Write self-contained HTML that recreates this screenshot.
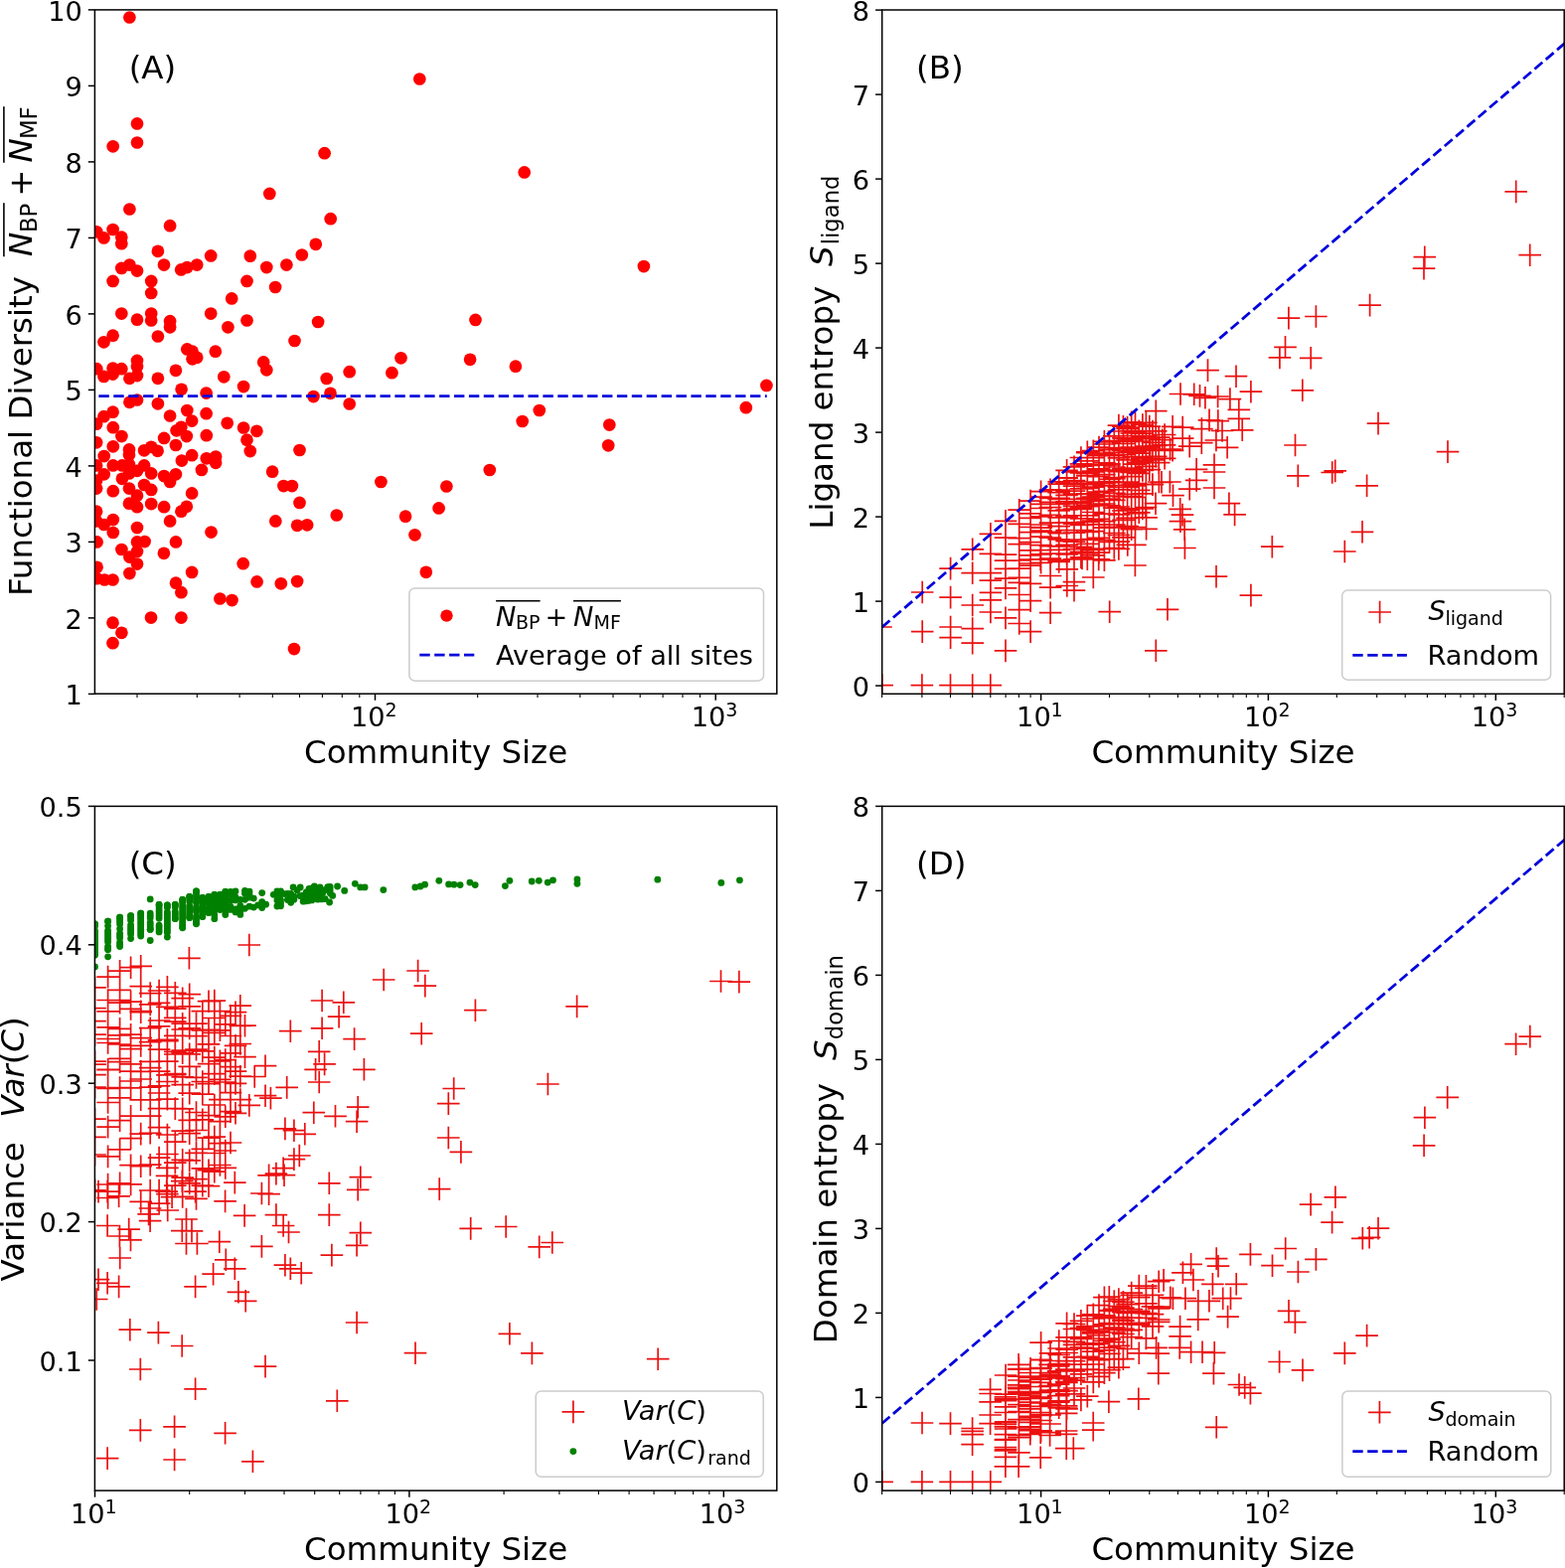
<!DOCTYPE html><html><head><meta charset="utf-8"><style>html,body{margin:0;padding:0;background:#fff;overflow:hidden}svg{display:block}</style></head><body>
<svg width="1575" height="1578" viewBox="0 0 1575 1578" font-family="'DejaVu Sans', 'Liberation Sans', sans-serif">
<rect width="1575" height="1578" fill="#fff"/>
<defs>
<clipPath id="clipA"><rect x="95.4" y="9.9" width="686.4" height="688.3"/></clipPath>
<clipPath id="clipB"><rect x="887.7" y="10.0" width="686.5" height="688.3"/></clipPath>
<clipPath id="clipC"><rect x="95.4" y="811.4" width="686.4" height="688.7"/></clipPath>
<clipPath id="clipD"><rect x="887.7" y="811.4" width="686.5" height="688.7"/></clipPath>
</defs>
<g clip-path="url(#clipA)" fill="#ff0000">
<circle cx="130.4" cy="17.5" r="6.35"/>
<circle cx="138.0" cy="124.4" r="6.35"/>
<circle cx="138.0" cy="143.5" r="6.35"/>
<circle cx="113.7" cy="147.3" r="6.35"/>
<circle cx="271.3" cy="194.9" r="6.35"/>
<circle cx="130.4" cy="210.5" r="6.35"/>
<circle cx="171.1" cy="227.2" r="6.35"/>
<circle cx="97.3" cy="233.3" r="6.35"/>
<circle cx="104.5" cy="239.4" r="6.35"/>
<circle cx="113.6" cy="231.0" r="6.35"/>
<circle cx="122.3" cy="238.7" r="6.35"/>
<circle cx="122.3" cy="245.2" r="6.35"/>
<circle cx="158.9" cy="252.8" r="6.35"/>
<circle cx="165.0" cy="266.6" r="6.35"/>
<circle cx="122.3" cy="269.9" r="6.35"/>
<circle cx="130.4" cy="266.6" r="6.35"/>
<circle cx="138.0" cy="272.6" r="6.35"/>
<circle cx="113.6" cy="282.9" r="6.35"/>
<circle cx="152.2" cy="282.9" r="6.35"/>
<circle cx="152.2" cy="295.0" r="6.35"/>
<circle cx="182.2" cy="271.4" r="6.35"/>
<circle cx="188.3" cy="269.1" r="6.35"/>
<circle cx="198.2" cy="266.6" r="6.35"/>
<circle cx="212.2" cy="257.4" r="6.35"/>
<circle cx="251.8" cy="257.7" r="6.35"/>
<circle cx="268.3" cy="269.1" r="6.35"/>
<circle cx="288.4" cy="266.6" r="6.35"/>
<circle cx="303.8" cy="256.5" r="6.35"/>
<circle cx="317.8" cy="245.8" r="6.35"/>
<circle cx="248.5" cy="282.9" r="6.35"/>
<circle cx="277.1" cy="289.0" r="6.35"/>
<circle cx="233.2" cy="300.4" r="6.35"/>
<circle cx="122.3" cy="315.6" r="6.35"/>
<circle cx="138.0" cy="321.7" r="6.35"/>
<circle cx="152.2" cy="315.6" r="6.35"/>
<circle cx="152.2" cy="322.5" r="6.35"/>
<circle cx="171.1" cy="323.2" r="6.35"/>
<circle cx="171.1" cy="329.3" r="6.35"/>
<circle cx="212.2" cy="315.6" r="6.35"/>
<circle cx="229.4" cy="329.3" r="6.35"/>
<circle cx="248.5" cy="322.5" r="6.35"/>
<circle cx="320.1" cy="324.0" r="6.35"/>
<circle cx="113.6" cy="337.7" r="6.35"/>
<circle cx="104.5" cy="344.3" r="6.35"/>
<circle cx="158.9" cy="338.5" r="6.35"/>
<circle cx="188.3" cy="351.4" r="6.35"/>
<circle cx="193.6" cy="353.7" r="6.35"/>
<circle cx="198.2" cy="359.8" r="6.35"/>
<circle cx="193.6" cy="361.3" r="6.35"/>
<circle cx="216.8" cy="353.7" r="6.35"/>
<circle cx="296.5" cy="343.0" r="6.35"/>
<circle cx="265.2" cy="364.4" r="6.35"/>
<circle cx="268.3" cy="372.3" r="6.35"/>
<circle cx="97.3" cy="371.2" r="6.35"/>
<circle cx="104.5" cy="378.9" r="6.35"/>
<circle cx="113.6" cy="370.5" r="6.35"/>
<circle cx="113.6" cy="376.6" r="6.35"/>
<circle cx="122.3" cy="371.2" r="6.35"/>
<circle cx="130.4" cy="380.8" r="6.35"/>
<circle cx="138.0" cy="362.9" r="6.35"/>
<circle cx="138.0" cy="369.0" r="6.35"/>
<circle cx="138.0" cy="378.1" r="6.35"/>
<circle cx="158.9" cy="380.8" r="6.35"/>
<circle cx="176.9" cy="372.8" r="6.35"/>
<circle cx="225.3" cy="379.3" r="6.35"/>
<circle cx="245.1" cy="389.1" r="6.35"/>
<circle cx="182.6" cy="391.8" r="6.35"/>
<circle cx="207.6" cy="395.6" r="6.35"/>
<circle cx="315.5" cy="399.1" r="6.35"/>
<circle cx="130.4" cy="404.8" r="6.35"/>
<circle cx="138.0" cy="402.5" r="6.35"/>
<circle cx="158.9" cy="406.3" r="6.35"/>
<circle cx="113.6" cy="414.7" r="6.35"/>
<circle cx="104.5" cy="419.2" r="6.35"/>
<circle cx="171.1" cy="418.5" r="6.35"/>
<circle cx="188.3" cy="413.1" r="6.35"/>
<circle cx="207.6" cy="416.2" r="6.35"/>
<circle cx="422.3" cy="79.5" r="6.35"/>
<circle cx="326.6" cy="154.2" r="6.35"/>
<circle cx="332.7" cy="220.2" r="6.35"/>
<circle cx="527.7" cy="173.4" r="6.35"/>
<circle cx="478.5" cy="321.9" r="6.35"/>
<circle cx="403.5" cy="360.3" r="6.35"/>
<circle cx="473.1" cy="361.8" r="6.35"/>
<circle cx="518.9" cy="368.7" r="6.35"/>
<circle cx="394.4" cy="375.2" r="6.35"/>
<circle cx="351.7" cy="374.2" r="6.35"/>
<circle cx="328.7" cy="381.0" r="6.35"/>
<circle cx="332.5" cy="395.8" r="6.35"/>
<circle cx="351.7" cy="406.5" r="6.35"/>
<circle cx="542.8" cy="413.0" r="6.35"/>
<circle cx="525.7" cy="424.0" r="6.35"/>
<circle cx="647.9" cy="268.1" r="6.35"/>
<circle cx="771.4" cy="387.9" r="6.35"/>
<circle cx="750.8" cy="410.2" r="6.35"/>
<circle cx="613.3" cy="427.6" r="6.35"/>
<circle cx="612.2" cy="448.3" r="6.35"/>
<circle cx="97.1" cy="426.7" r="6.35"/>
<circle cx="113.8" cy="430.2" r="6.35"/>
<circle cx="122.4" cy="439.1" r="6.35"/>
<circle cx="97.1" cy="445.3" r="6.35"/>
<circle cx="113.8" cy="449.3" r="6.35"/>
<circle cx="104.7" cy="459.1" r="6.35"/>
<circle cx="130.0" cy="452.4" r="6.35"/>
<circle cx="130.0" cy="457.8" r="6.35"/>
<circle cx="145.1" cy="453.3" r="6.35"/>
<circle cx="152.2" cy="449.8" r="6.35"/>
<circle cx="158.6" cy="453.8" r="6.35"/>
<circle cx="165.1" cy="440.9" r="6.35"/>
<circle cx="193.1" cy="423.6" r="6.35"/>
<circle cx="182.4" cy="429.8" r="6.35"/>
<circle cx="177.6" cy="433.3" r="6.35"/>
<circle cx="187.8" cy="439.1" r="6.35"/>
<circle cx="176.9" cy="448.0" r="6.35"/>
<circle cx="207.8" cy="438.2" r="6.35"/>
<circle cx="228.7" cy="425.8" r="6.35"/>
<circle cx="182.9" cy="463.6" r="6.35"/>
<circle cx="193.1" cy="458.2" r="6.35"/>
<circle cx="207.8" cy="461.3" r="6.35"/>
<circle cx="217.1" cy="459.6" r="6.35"/>
<circle cx="217.1" cy="465.8" r="6.35"/>
<circle cx="202.9" cy="472.9" r="6.35"/>
<circle cx="97.1" cy="468.4" r="6.35"/>
<circle cx="104.7" cy="477.3" r="6.35"/>
<circle cx="113.8" cy="468.4" r="6.35"/>
<circle cx="122.9" cy="468.4" r="6.35"/>
<circle cx="130.0" cy="467.6" r="6.35"/>
<circle cx="122.9" cy="481.8" r="6.35"/>
<circle cx="130.0" cy="476.4" r="6.35"/>
<circle cx="138.0" cy="473.8" r="6.35"/>
<circle cx="145.1" cy="468.4" r="6.35"/>
<circle cx="152.2" cy="476.4" r="6.35"/>
<circle cx="130.0" cy="491.6" r="6.35"/>
<circle cx="138.0" cy="498.7" r="6.35"/>
<circle cx="145.1" cy="488.0" r="6.35"/>
<circle cx="152.2" cy="492.9" r="6.35"/>
<circle cx="130.0" cy="506.7" r="6.35"/>
<circle cx="138.0" cy="510.2" r="6.35"/>
<circle cx="152.2" cy="507.1" r="6.35"/>
<circle cx="165.1" cy="510.2" r="6.35"/>
<circle cx="165.1" cy="479.1" r="6.35"/>
<circle cx="176.9" cy="477.3" r="6.35"/>
<circle cx="171.1" cy="484.9" r="6.35"/>
<circle cx="193.1" cy="496.4" r="6.35"/>
<circle cx="187.8" cy="509.8" r="6.35"/>
<circle cx="182.4" cy="514.7" r="6.35"/>
<circle cx="171.1" cy="524.4" r="6.35"/>
<circle cx="138.0" cy="531.1" r="6.35"/>
<circle cx="212.5" cy="535.6" r="6.35"/>
<circle cx="113.8" cy="494.2" r="6.35"/>
<circle cx="97.1" cy="483.6" r="6.35"/>
<circle cx="97.1" cy="491.6" r="6.35"/>
<circle cx="97.1" cy="514.7" r="6.35"/>
<circle cx="97.1" cy="524.4" r="6.35"/>
<circle cx="104.7" cy="528.0" r="6.35"/>
<circle cx="113.8" cy="523.1" r="6.35"/>
<circle cx="113.8" cy="536.0" r="6.35"/>
<circle cx="97.6" cy="545.4" r="6.35"/>
<circle cx="138.0" cy="545.4" r="6.35"/>
<circle cx="145.6" cy="545.1" r="6.35"/>
<circle cx="122.4" cy="553.0" r="6.35"/>
<circle cx="130.4" cy="560.6" r="6.35"/>
<circle cx="138.0" cy="554.9" r="6.35"/>
<circle cx="138.0" cy="567.6" r="6.35"/>
<circle cx="130.4" cy="577.1" r="6.35"/>
<circle cx="97.6" cy="570.8" r="6.35"/>
<circle cx="97.6" cy="582.2" r="6.35"/>
<circle cx="105.2" cy="583.5" r="6.35"/>
<circle cx="113.5" cy="583.5" r="6.35"/>
<circle cx="177.0" cy="545.4" r="6.35"/>
<circle cx="164.9" cy="556.8" r="6.35"/>
<circle cx="277.3" cy="524.4" r="6.35"/>
<circle cx="193.1" cy="575.9" r="6.35"/>
<circle cx="177.0" cy="586.7" r="6.35"/>
<circle cx="182.4" cy="596.2" r="6.35"/>
<circle cx="244.7" cy="567.2" r="6.35"/>
<circle cx="258.6" cy="585.4" r="6.35"/>
<circle cx="282.8" cy="587.3" r="6.35"/>
<circle cx="221.4" cy="602.5" r="6.35"/>
<circle cx="233.5" cy="604.1" r="6.35"/>
<circle cx="152.0" cy="621.6" r="6.35"/>
<circle cx="182.4" cy="621.6" r="6.35"/>
<circle cx="113.5" cy="626.7" r="6.35"/>
<circle cx="122.4" cy="636.8" r="6.35"/>
<circle cx="113.5" cy="647.2" r="6.35"/>
<circle cx="245.1" cy="430.5" r="6.35"/>
<circle cx="258.4" cy="433.8" r="6.35"/>
<circle cx="248.5" cy="442.7" r="6.35"/>
<circle cx="251.8" cy="454.1" r="6.35"/>
<circle cx="301.5" cy="453.0" r="6.35"/>
<circle cx="274.1" cy="474.7" r="6.35"/>
<circle cx="285.4" cy="489.1" r="6.35"/>
<circle cx="293.9" cy="489.1" r="6.35"/>
<circle cx="301.5" cy="505.9" r="6.35"/>
<circle cx="299.1" cy="528.8" r="6.35"/>
<circle cx="309.1" cy="528.3" r="6.35"/>
<circle cx="299.1" cy="585.1" r="6.35"/>
<circle cx="383.4" cy="485.0" r="6.35"/>
<circle cx="492.8" cy="473.0" r="6.35"/>
<circle cx="449.4" cy="489.5" r="6.35"/>
<circle cx="441.6" cy="511.4" r="6.35"/>
<circle cx="408.1" cy="519.7" r="6.35"/>
<circle cx="417.5" cy="538.3" r="6.35"/>
<circle cx="338.8" cy="518.5" r="6.35"/>
<circle cx="428.8" cy="575.8" r="6.35"/>
<circle cx="296.0" cy="653.1" r="6.35"/>
</g>
<line x1="99.4" y1="398.7" x2="771.7" y2="398.7" stroke="#0404dc" stroke-width="2.8" stroke-dasharray="10.4 4.5"/>
<rect x="95.4" y="9.9" width="686.4" height="688.3" fill="none" stroke="#000" stroke-width="1.5"/>
<line x1="377.5" y1="698.2" x2="377.5" y2="704.8" stroke="#000" stroke-width="1.5"/>
<text x="353.0" y="731.2" font-size="27.2" text-anchor="start">10</text>
<text x="387.5" y="720.8" font-size="19.0" text-anchor="start">2</text>
<line x1="720.2" y1="698.2" x2="720.2" y2="704.8" stroke="#000" stroke-width="1.5"/>
<text x="695.7" y="731.2" font-size="27.2" text-anchor="start">10</text>
<text x="730.2" y="720.8" font-size="19.0" text-anchor="start">3</text>
<line x1="138.0" y1="698.2" x2="138.0" y2="702.0" stroke="#000" stroke-width="1.1"/>
<line x1="198.3" y1="698.2" x2="198.3" y2="702.0" stroke="#000" stroke-width="1.1"/>
<line x1="241.1" y1="698.2" x2="241.1" y2="702.0" stroke="#000" stroke-width="1.1"/>
<line x1="274.3" y1="698.2" x2="274.3" y2="702.0" stroke="#000" stroke-width="1.1"/>
<line x1="301.5" y1="698.2" x2="301.5" y2="702.0" stroke="#000" stroke-width="1.1"/>
<line x1="324.4" y1="698.2" x2="324.4" y2="702.0" stroke="#000" stroke-width="1.1"/>
<line x1="344.3" y1="698.2" x2="344.3" y2="702.0" stroke="#000" stroke-width="1.1"/>
<line x1="361.8" y1="698.2" x2="361.8" y2="702.0" stroke="#000" stroke-width="1.1"/>
<line x1="480.7" y1="698.2" x2="480.7" y2="702.0" stroke="#000" stroke-width="1.1"/>
<line x1="541.0" y1="698.2" x2="541.0" y2="702.0" stroke="#000" stroke-width="1.1"/>
<line x1="583.8" y1="698.2" x2="583.8" y2="702.0" stroke="#000" stroke-width="1.1"/>
<line x1="617.0" y1="698.2" x2="617.0" y2="702.0" stroke="#000" stroke-width="1.1"/>
<line x1="644.2" y1="698.2" x2="644.2" y2="702.0" stroke="#000" stroke-width="1.1"/>
<line x1="667.1" y1="698.2" x2="667.1" y2="702.0" stroke="#000" stroke-width="1.1"/>
<line x1="687.0" y1="698.2" x2="687.0" y2="702.0" stroke="#000" stroke-width="1.1"/>
<line x1="704.5" y1="698.2" x2="704.5" y2="702.0" stroke="#000" stroke-width="1.1"/>
<line x1="88.8" y1="698.4" x2="95.4" y2="698.4" stroke="#000" stroke-width="1.5"/>
<text x="82.8" y="709.0" font-size="27.2" text-anchor="end">1</text>
<line x1="88.8" y1="621.9" x2="95.4" y2="621.9" stroke="#000" stroke-width="1.5"/>
<text x="82.8" y="632.5" font-size="27.2" text-anchor="end">2</text>
<line x1="88.8" y1="545.4" x2="95.4" y2="545.4" stroke="#000" stroke-width="1.5"/>
<text x="82.8" y="556.0" font-size="27.2" text-anchor="end">3</text>
<line x1="88.8" y1="468.9" x2="95.4" y2="468.9" stroke="#000" stroke-width="1.5"/>
<text x="82.8" y="479.5" font-size="27.2" text-anchor="end">4</text>
<line x1="88.8" y1="392.4" x2="95.4" y2="392.4" stroke="#000" stroke-width="1.5"/>
<text x="82.8" y="403.0" font-size="27.2" text-anchor="end">5</text>
<line x1="88.8" y1="315.9" x2="95.4" y2="315.9" stroke="#000" stroke-width="1.5"/>
<text x="82.8" y="326.5" font-size="27.2" text-anchor="end">6</text>
<line x1="88.8" y1="239.4" x2="95.4" y2="239.4" stroke="#000" stroke-width="1.5"/>
<text x="82.8" y="250.0" font-size="27.2" text-anchor="end">7</text>
<line x1="88.8" y1="162.9" x2="95.4" y2="162.9" stroke="#000" stroke-width="1.5"/>
<text x="82.8" y="173.5" font-size="27.2" text-anchor="end">8</text>
<line x1="88.8" y1="86.4" x2="95.4" y2="86.4" stroke="#000" stroke-width="1.5"/>
<text x="82.8" y="97.0" font-size="27.2" text-anchor="end">9</text>
<line x1="88.8" y1="9.9" x2="95.4" y2="9.9" stroke="#000" stroke-width="1.5"/>
<text x="82.8" y="20.5" font-size="27.2" text-anchor="end">10</text>
<g clip-path="url(#clipB)">
<path d="M1514.4 192.9h22.6M1525.7 181.6v22.6M1528.4 256.7h22.6M1539.7 245.4v22.6M1422.5 258.7h22.6M1433.8 247.4v22.6M1421.7 270.2h22.6M1433.0 258.9v22.6M1367.3 307.1h22.6M1378.6 295.8v22.6M1285.6 320.1h22.6M1296.9 308.8v22.6M1313.1 318.5h22.6M1324.4 307.2v22.6M1282.2 349.4h22.6M1293.5 338.1v22.6M1276.6 359.9h22.6M1287.9 348.6v22.6M1307.9 360.3h22.6M1319.2 349.0v22.6M1299.5 392.8h22.6M1310.8 381.5v22.6M1375.7 426.1h22.6M1387.0 414.8v22.6M1292.2 448.0h22.6M1303.5 436.7v22.6M1445.7 454.6h22.6M1457.0 443.3v22.6M1295.0 478.9h22.6M1306.3 467.6v22.6M1329.4 475.5h22.6M1340.7 464.2v22.6M1332.4 473.9h22.6M1343.7 462.6v22.6M1364.3 488.8h22.6M1375.6 477.5v22.6M1359.7 535.3h22.6M1371.0 524.0v22.6M1342.0 555.0h22.6M1353.3 543.7v22.6M1269.0 550.2h22.6M1280.3 538.9v22.6M1204.2 372.6h22.6M1215.5 361.3v22.6M1232.7 378.7h22.6M1244.0 367.4v22.6M1247.6 394.2h22.6M1258.9 382.9v22.6M1176.7 396.5h22.6M1188.0 385.2v22.6M1190.4 396.8h22.6M1201.7 385.5v22.6M1196.2 398.4h22.6M1207.5 387.1v22.6M1201.6 400.3h22.6M1212.9 389.0v22.6M1214.3 399.0h22.6M1225.6 387.7v22.6M1226.6 401.6h22.6M1237.9 390.3v22.6M1235.5 412.4h22.6M1246.8 401.1v22.6M1152.0 413.7h22.6M1163.3 402.4v22.6M1168.8 429.3h22.6M1180.1 418.0v22.6M1178.9 430.1h22.6M1190.2 418.8v22.6M1178.9 441.1h22.6M1190.2 429.8v22.6M1185.9 449.1h22.6M1197.2 437.8v22.6M1198.1 431.6h22.6M1209.4 420.3v22.6M1198.0 445.7h22.6M1209.3 434.4v22.6M1205.7 422.9h22.6M1217.0 411.6v22.6M1214.5 423.6h22.6M1225.8 412.3v22.6M1218.7 433.5h22.6M1230.0 422.2v22.6M1212.6 443.0h22.6M1223.9 431.7v22.6M1223.8 450.3h22.6M1235.1 439.0v22.6M1235.5 421.3h22.6M1246.8 410.0v22.6M1238.9 432.8h22.6M1250.2 421.5v22.6M1192.8 472.4h22.6M1204.1 461.1v22.6M1192.8 483.4h22.6M1204.1 472.1v22.6M1185.9 492.2h22.6M1197.2 480.9v22.6M1210.7 467.8h22.6M1222.0 456.5v22.6M1210.7 475.0h22.6M1222.0 463.7v22.6M1210.7 491.0h22.6M1222.0 479.7v22.6M1225.6 506.7h22.6M1236.9 495.4v22.6M1231.3 517.9h22.6M1242.6 506.6v22.6M1176.4 512.4h22.6M1187.7 501.1v22.6M1178.7 518.1h22.6M1190.0 506.8v22.6M1169.2 498.7h22.6M1180.5 487.4v22.6M1166.1 485.0h22.6M1177.4 473.7v22.6M1155.1 485.0h22.6M1166.4 473.7v22.6M1157.7 485.3h22.6M1169.0 474.0v22.6M1148.6 487.6h22.6M1159.9 476.3v22.6M1151.7 506.7h22.6M1163.0 495.4v22.6M1141.7 510.5h22.6M1153.0 499.2v22.6M1168.8 453.3h22.6M1180.1 442.0v22.6M1158.5 442.7h22.6M1169.8 431.4v22.6M1146.3 453.3h22.6M1157.6 442.0v22.6M875.2 631.0h22.6M886.5 619.7v22.6M916.9 596.0h22.6M928.2 584.7v22.6M916.9 635.6h22.6M928.2 624.3v22.6M945.3 572.1h22.6M956.6 560.8v22.6M945.3 601.1h22.6M956.6 589.8v22.6M945.3 631.0h22.6M956.6 619.7v22.6M945.3 641.7h22.6M956.6 630.4v22.6M967.4 552.8h22.6M978.7 541.5v22.6M967.4 576.7h22.6M978.7 565.4v22.6M967.4 609.0h22.6M978.7 597.7v22.6M967.4 632.6h22.6M978.7 621.3v22.6M967.4 647.1h22.6M978.7 635.8v22.6M985.6 537.4h22.6M996.9 526.1v22.6M985.6 557.4h22.6M996.9 546.1v22.6M985.6 576.7h22.6M996.9 565.4v22.6M985.6 584.1h22.6M996.9 572.8v22.6M985.6 596.3h22.6M996.9 585.0v22.6M985.6 603.8h22.6M996.9 592.5v22.6M985.6 616.0h22.6M996.9 604.7v22.6M1000.7 524.4h22.6M1012.0 513.1v22.6M1000.7 541.1h22.6M1012.0 529.8v22.6M1000.7 558.1h22.6M1012.0 546.8v22.6M1000.7 564.2h22.6M1012.0 552.9v22.6M1000.7 572.3h22.6M1012.0 561.0v22.6M1000.7 582.1h22.6M1012.0 570.8v22.6M1000.7 591.9h22.6M1012.0 580.6v22.6M1000.7 621.9h22.6M1012.0 610.6v22.6M1000.7 654.9h22.6M1012.0 643.6v22.6M1014.4 513.2h22.6M1025.7 501.9v22.6M1014.4 527.4h22.6M1025.7 516.1v22.6M1014.4 541.6h22.6M1025.7 530.3v22.6M1014.4 547.7h22.6M1025.7 536.4v22.6M1014.4 564.0h22.6M1025.7 552.7v22.6M1014.4 572.1h22.6M1025.7 560.8v22.6M1014.4 581.3h22.6M1025.7 570.0v22.6M1014.4 586.3h22.6M1025.7 575.0v22.6M1014.4 598.5h22.6M1025.7 587.2v22.6M1014.4 613.6h22.6M1025.7 602.3v22.6M1014.4 627.5h22.6M1025.7 616.2v22.6M1025.8 504.1h22.6M1037.1 492.8v22.6M1025.8 516.8h22.6M1037.1 505.5v22.6M1025.8 521.3h22.6M1037.1 510.0v22.6M1025.8 530.5h22.6M1037.1 519.2v22.6M1025.8 535.6h22.6M1037.1 524.3v22.6M1025.8 545.7h22.6M1037.1 534.4v22.6M1025.8 553.8h22.6M1037.1 542.5v22.6M1025.8 558.9h22.6M1037.1 547.6v22.6M1025.8 563.0h22.6M1037.1 551.7v22.6M1025.8 567.0h22.6M1037.1 555.7v22.6M1025.8 569.1h22.6M1037.1 557.8v22.6M1025.8 587.4h22.6M1037.1 576.1v22.6M1025.8 604.6h22.6M1037.1 593.3v22.6M1025.8 635.6h22.6M1037.1 624.3v22.6M1045.8 579.5h22.6M1057.1 568.2v22.6M1045.8 591.2h22.6M1057.1 579.9v22.6M1045.8 616.7h22.6M1057.1 605.4v22.6M1062.5 572.9h22.6M1073.8 561.6v22.6M1062.5 589.5h22.6M1073.8 578.2v22.6M1069.7 585.7h22.6M1081.0 574.4v22.6M1069.7 594.1h22.6M1081.0 582.8v22.6M1089.0 581.0h22.6M1100.3 569.7v22.6M1105.4 615.7h22.6M1116.7 604.4v22.6M1131.1 569.0h22.6M1142.4 557.7v22.6M1123.5 548.4h22.6M1134.8 537.1v22.6M1131.1 548.4h22.6M1142.4 537.1v22.6M1163.7 613.3h22.6M1175.0 602.0v22.6M1152.0 654.8h22.6M1163.3 643.5v22.6M1100.1 563.8h22.6M1111.4 552.5v22.6M1094.4 562.9h22.6M1105.7 551.6v22.6M1077.7 561.9h22.6M1089.0 550.6v22.6M1054.4 563.8h22.6M1065.7 552.5v22.6M1035.8 562.9h22.6M1047.1 551.6v22.6M1212.7 580.2h22.6M1224.0 568.9v22.6M1247.6 599.1h22.6M1258.9 587.8v22.6M1181.1 551.5h22.6M1192.4 540.2v22.6M1176.6 524.7h22.6M1187.9 513.4v22.6M1180.8 532.9h22.6M1192.1 521.6v22.6M1142.3 520.8h22.6M1153.6 509.5v22.6M1142.3 532.3h22.6M1153.6 521.0v22.6M1036.3 494.7h22.6M1047.6 483.4v22.6M1036.3 500.2h22.6M1047.6 488.9v22.6M1036.3 507.3h22.6M1047.6 496.0v22.6M1036.3 511.5h22.6M1047.6 500.2v22.6M1036.3 519.9h22.6M1047.6 508.6v22.6M1036.3 528.0h22.6M1047.6 516.7v22.6M1036.3 531.1h22.6M1047.6 519.8v22.6M1036.3 534.2h22.6M1047.6 522.9v22.6M1036.3 540.2h22.6M1047.6 528.9v22.6M1036.3 548.6h22.6M1047.6 537.3v22.6M1036.3 553.7h22.6M1047.6 542.4v22.6M1036.3 557.9h22.6M1047.6 546.6v22.6M1036.3 563.2h22.6M1047.6 551.9v22.6M1036.3 566.3h22.6M1047.6 555.0v22.6M1045.7 492.8h22.6M1057.0 481.5v22.6M1045.7 501.4h22.6M1057.0 490.1v22.6M1045.7 505.4h22.6M1057.0 494.1v22.6M1045.7 510.7h22.6M1057.0 499.4v22.6M1045.7 518.4h22.6M1057.0 507.1v22.6M1045.7 526.1h22.6M1057.0 514.8v22.6M1045.7 535.3h22.6M1057.0 524.0v22.6M1045.7 541.1h22.6M1057.0 529.8v22.6M1045.7 549.6h22.6M1057.0 538.3v22.6M1045.7 557.0h22.6M1057.0 545.7v22.6M1045.7 562.1h22.6M1057.0 550.8v22.6M1054.4 484.9h22.6M1065.7 473.6v22.6M1054.4 493.2h22.6M1065.7 481.9v22.6M1054.4 501.3h22.6M1065.7 490.0v22.6M1054.4 507.4h22.6M1065.7 496.1v22.6M1054.4 513.9h22.6M1065.7 502.6v22.6M1054.4 520.8h22.6M1065.7 509.5v22.6M1054.4 529.7h22.6M1065.7 518.4v22.6M1054.4 536.7h22.6M1065.7 525.4v22.6M1054.4 542.9h22.6M1065.7 531.6v22.6M1054.4 549.8h22.6M1065.7 538.5v22.6M1054.4 553.4h22.6M1065.7 542.1v22.6M1054.4 557.2h22.6M1065.7 545.9v22.6M1054.4 565.5h22.6M1065.7 554.2v22.6M1062.3 481.1h22.6M1073.6 469.8v22.6M1062.3 486.5h22.6M1073.6 475.2v22.6M1062.3 494.1h22.6M1073.6 482.8v22.6M1062.3 504.9h22.6M1073.6 493.6v22.6M1062.3 513.0h22.6M1073.6 501.7v22.6M1062.3 520.1h22.6M1073.6 508.8v22.6M1062.3 525.9h22.6M1073.6 514.6v22.6M1062.3 533.7h22.6M1073.6 522.4v22.6M1062.3 544.6h22.6M1073.6 533.3v22.6M1062.3 548.4h22.6M1073.6 537.1v22.6M1062.3 558.0h22.6M1073.6 546.7v22.6M1069.7 475.0h22.6M1081.0 463.7v22.6M1069.7 483.6h22.6M1081.0 472.3v22.6M1069.7 489.2h22.6M1081.0 477.9v22.6M1069.7 497.2h22.6M1081.0 485.9v22.6M1069.7 505.1h22.6M1081.0 493.8v22.6M1069.7 512.0h22.6M1081.0 500.7v22.6M1069.7 518.8h22.6M1081.0 507.5v22.6M1069.7 527.1h22.6M1081.0 515.8v22.6M1069.7 536.1h22.6M1081.0 524.8v22.6M1069.7 545.1h22.6M1081.0 533.8v22.6M1069.7 552.7h22.6M1081.0 541.4v22.6M1069.7 557.0h22.6M1081.0 545.7v22.6M1069.7 562.8h22.6M1081.0 551.5v22.6M1076.6 469.2h22.6M1087.9 457.9v22.6M1076.6 475.7h22.6M1087.9 464.4v22.6M1076.6 487.2h22.6M1087.9 475.9v22.6M1076.6 497.3h22.6M1087.9 486.0v22.6M1076.6 502.3h22.6M1087.9 491.0v22.6M1076.6 506.7h22.6M1087.9 495.4v22.6M1076.6 511.1h22.6M1087.9 499.8v22.6M1076.6 521.9h22.6M1087.9 510.6v22.6M1076.6 528.3h22.6M1087.9 517.0v22.6M1076.6 533.5h22.6M1087.9 522.2v22.6M1076.6 543.2h22.6M1087.9 531.9v22.6M1076.6 550.4h22.6M1087.9 539.1v22.6M1076.6 555.3h22.6M1087.9 544.0v22.6M1076.6 560.9h22.6M1087.9 549.6v22.6M1083.0 454.9h22.6M1094.3 443.6v22.6M1083.0 463.8h22.6M1094.3 452.5v22.6M1083.0 468.5h22.6M1094.3 457.2v22.6M1083.0 476.6h22.6M1094.3 465.3v22.6M1083.0 485.0h22.6M1094.3 473.7v22.6M1083.0 491.3h22.6M1094.3 480.0v22.6M1083.0 496.9h22.6M1094.3 485.6v22.6M1083.0 509.6h22.6M1094.3 498.3v22.6M1083.0 518.9h22.6M1094.3 507.6v22.6M1083.0 525.3h22.6M1094.3 514.0v22.6M1083.0 535.4h22.6M1094.3 524.1v22.6M1083.0 547.4h22.6M1094.3 536.1v22.6M1083.0 552.2h22.6M1094.3 540.9v22.6M1083.0 556.9h22.6M1094.3 545.6v22.6M1083.0 562.8h22.6M1094.3 551.5v22.6M1089.0 453.7h22.6M1100.3 442.4v22.6M1089.0 460.7h22.6M1100.3 449.4v22.6M1089.0 475.0h22.6M1100.3 463.7v22.6M1089.0 487.6h22.6M1100.3 476.3v22.6M1089.0 497.4h22.6M1100.3 486.1v22.6M1089.0 504.4h22.6M1100.3 493.1v22.6M1089.0 515.5h22.6M1100.3 504.2v22.6M1089.0 524.2h22.6M1100.3 512.9v22.6M1089.0 534.6h22.6M1100.3 523.3v22.6M1089.0 542.5h22.6M1100.3 531.2v22.6M1089.0 553.5h22.6M1100.3 542.2v22.6M1089.0 558.9h22.6M1100.3 547.6v22.6M1094.7 450.1h22.6M1106.0 438.8v22.6M1094.7 458.4h22.6M1106.0 447.1v22.6M1094.7 473.1h22.6M1106.0 461.8v22.6M1094.7 485.9h22.6M1106.0 474.6v22.6M1094.7 495.2h22.6M1106.0 483.9v22.6M1094.7 502.9h22.6M1106.0 491.6v22.6M1094.7 508.1h22.6M1106.0 496.8v22.6M1094.7 522.3h22.6M1106.0 511.0v22.6M1094.7 527.8h22.6M1106.0 516.5v22.6M1094.7 541.3h22.6M1106.0 530.0v22.6M1094.7 556.2h22.6M1106.0 544.9v22.6M1100.1 444.3h22.6M1111.4 433.0v22.6M1100.1 457.2h22.6M1111.4 445.9v22.6M1100.1 468.1h22.6M1111.4 456.8v22.6M1100.1 477.6h22.6M1111.4 466.3v22.6M1100.1 486.7h22.6M1111.4 475.4v22.6M1100.1 494.4h22.6M1111.4 483.1v22.6M1100.1 507.0h22.6M1111.4 495.7v22.6M1100.1 517.1h22.6M1111.4 505.8v22.6M1100.1 524.6h22.6M1111.4 513.3v22.6M1100.1 531.1h22.6M1111.4 519.8v22.6M1100.1 543.7h22.6M1111.4 532.4v22.6M1100.1 552.3h22.6M1111.4 541.0v22.6M1105.2 444.8h22.6M1116.5 433.5v22.6M1105.2 450.6h22.6M1116.5 439.3v22.6M1105.2 458.6h22.6M1116.5 447.3v22.6M1105.2 468.0h22.6M1116.5 456.7v22.6M1105.2 484.8h22.6M1116.5 473.5v22.6M1105.2 499.4h22.6M1116.5 488.1v22.6M1105.2 508.9h22.6M1116.5 497.6v22.6M1105.2 517.0h22.6M1116.5 505.7v22.6M1105.2 530.3h22.6M1116.5 519.0v22.6M1105.2 545.5h22.6M1116.5 534.2v22.6M1110.0 443.6h22.6M1121.3 432.3v22.6M1110.0 455.3h22.6M1121.3 444.0v22.6M1110.0 473.0h22.6M1121.3 461.7v22.6M1110.0 481.7h22.6M1121.3 470.4v22.6M1110.0 496.3h22.6M1121.3 485.0v22.6M1110.0 503.3h22.6M1121.3 492.0v22.6M1110.0 511.2h22.6M1121.3 499.9v22.6M1110.0 528.0h22.6M1121.3 516.7v22.6M1110.0 536.5h22.6M1121.3 525.2v22.6M1110.0 551.5h22.6M1121.3 540.2v22.6M1114.6 434.0h22.6M1125.9 422.7v22.6M1114.6 443.9h22.6M1125.9 432.6v22.6M1114.6 460.9h22.6M1125.9 449.6v22.6M1114.6 474.7h22.6M1125.9 463.4v22.6M1114.6 492.8h22.6M1125.9 481.5v22.6M1114.6 510.0h22.6M1125.9 498.7v22.6M1114.6 517.9h22.6M1125.9 506.6v22.6M1114.6 531.0h22.6M1125.9 519.7v22.6M1114.6 538.5h22.6M1125.9 527.2v22.6M1114.6 545.2h22.6M1125.9 533.9v22.6M1114.6 552.4h22.6M1125.9 541.1v22.6M1119.1 429.2h22.6M1130.4 417.9v22.6M1119.1 446.5h22.6M1130.4 435.2v22.6M1119.1 457.5h22.6M1130.4 446.2v22.6M1119.1 471.9h22.6M1130.4 460.6v22.6M1119.1 488.6h22.6M1130.4 477.3v22.6M1119.1 500.0h22.6M1130.4 488.7v22.6M1119.1 514.0h22.6M1130.4 502.7v22.6M1119.1 523.4h22.6M1130.4 512.1v22.6M1119.1 530.9h22.6M1130.4 519.6v22.6M1119.1 540.9h22.6M1130.4 529.6v22.6M1123.3 431.5h22.6M1134.6 420.2v22.6M1123.3 444.5h22.6M1134.6 433.2v22.6M1123.3 455.1h22.6M1134.6 443.8v22.6M1123.3 472.5h22.6M1134.6 461.2v22.6M1123.3 490.5h22.6M1134.6 479.2v22.6M1123.3 497.4h22.6M1134.6 486.1v22.6M1123.3 513.3h22.6M1134.6 502.0v22.6M1123.3 521.3h22.6M1134.6 510.0v22.6M1123.3 529.7h22.6M1134.6 518.4v22.6M1127.4 424.9h22.6M1138.7 413.6v22.6M1127.4 433.6h22.6M1138.7 422.3v22.6M1127.4 443.0h22.6M1138.7 431.7v22.6M1127.4 453.5h22.6M1138.7 442.2v22.6M1127.4 471.0h22.6M1138.7 459.7v22.6M1127.4 479.6h22.6M1138.7 468.3v22.6M1127.4 499.5h22.6M1138.7 488.2v22.6M1127.4 511.8h22.6M1138.7 500.5v22.6M1127.4 532.6h22.6M1138.7 521.3v22.6M1131.2 426.0h22.6M1142.5 414.7v22.6M1131.2 434.8h22.6M1142.5 423.5v22.6M1131.2 451.7h22.6M1142.5 440.4v22.6M1131.2 459.6h22.6M1142.5 448.3v22.6M1131.2 467.1h22.6M1142.5 455.8v22.6M1131.2 488.8h22.6M1142.5 477.5v22.6M1131.2 500.5h22.6M1142.5 489.2v22.6M1131.2 516.6h22.6M1142.5 505.3v22.6M1131.2 530.5h22.6M1142.5 519.2v22.6M1135.0 433.8h22.6M1146.3 422.5v22.6M1135.0 456.1h22.6M1146.3 444.8v22.6M1135.0 465.4h22.6M1146.3 454.1v22.6M1135.0 476.3h22.6M1146.3 465.0v22.6M1135.0 493.3h22.6M1146.3 482.0v22.6M1135.0 515.8h22.6M1146.3 504.5v22.6M1138.6 427.5h22.6M1149.9 416.2v22.6M1138.6 440.3h22.6M1149.9 429.0v22.6M1138.6 452.0h22.6M1149.9 440.7v22.6M1138.6 461.2h22.6M1149.9 449.9v22.6M1138.6 473.5h22.6M1149.9 462.2v22.6M1138.6 496.9h22.6M1149.9 485.6v22.6M1138.6 511.9h22.6M1149.9 500.6v22.6M1142.1 425.4h22.6M1153.4 414.1v22.6M1142.1 438.5h22.6M1153.4 427.2v22.6M1142.1 452.0h22.6M1153.4 440.7v22.6M1142.1 465.4h22.6M1153.4 454.1v22.6M1142.1 487.4h22.6M1153.4 476.1v22.6M1145.5 429.1h22.6M1156.8 417.8v22.6M1145.5 441.6h22.6M1156.8 430.3v22.6M1145.5 450.4h22.6M1156.8 439.1v22.6M1145.5 463.0h22.6M1156.8 451.7v22.6M1145.5 472.6h22.6M1156.8 461.3v22.6M1148.7 434.0h22.6M1160.0 422.7v22.6M1148.7 445.4h22.6M1160.0 434.1v22.6M1148.7 462.9h22.6M1160.0 451.6v22.6M1151.9 433.8h22.6M1163.2 422.5v22.6M1151.9 448.5h22.6M1163.2 437.2v22.6M1151.9 459.4h22.6M1163.2 448.1v22.6M1154.9 440.2h22.6M1166.2 428.9v22.6M1154.9 452.4h22.6M1166.2 441.1v22.6M1154.9 465.7h22.6M1166.2 454.4v22.6M1160.8 437.5h22.6M1172.1 426.2v22.6M1160.8 447.9h22.6M1172.1 436.6v22.6M1160.8 461.3h22.6M1172.1 450.0v22.6M1166.3 452.1h22.6M1177.6 440.8v22.6M1054.4 487.2h22.6M1065.7 475.9v22.6M1054.4 495.6h22.6M1065.7 484.3v22.6M1054.4 502.5h22.6M1065.7 491.2v22.6M1062.3 473.4h22.6M1073.6 462.1v22.6M1062.3 480.9h22.6M1073.6 469.6v22.6M1062.3 486.3h22.6M1073.6 475.0v22.6M1062.3 498.3h22.6M1073.6 487.0v22.6M1062.3 506.9h22.6M1073.6 495.6v22.6M1069.7 469.9h22.6M1081.0 458.6v22.6M1069.7 484.3h22.6M1081.0 473.0v22.6M1069.7 494.2h22.6M1081.0 482.9v22.6M1069.7 509.3h22.6M1081.0 498.0v22.6M1076.6 460.5h22.6M1087.9 449.2v22.6M1076.6 466.9h22.6M1087.9 455.6v22.6M1076.6 476.0h22.6M1087.9 464.7v22.6M1076.6 491.9h22.6M1087.9 480.6v22.6M1076.6 505.7h22.6M1087.9 494.4v22.6M1076.6 512.4h22.6M1087.9 501.1v22.6M1083.0 455.6h22.6M1094.3 444.3v22.6M1083.0 467.9h22.6M1094.3 456.6v22.6M1083.0 478.9h22.6M1094.3 467.6v22.6M1083.0 486.9h22.6M1094.3 475.6v22.6M1083.0 501.3h22.6M1094.3 490.0v22.6M1083.0 508.6h22.6M1094.3 497.3v22.6M1089.0 456.0h22.6M1100.3 444.7v22.6M1089.0 474.2h22.6M1100.3 462.9v22.6M1089.0 490.2h22.6M1100.3 478.9v22.6M1089.0 500.1h22.6M1100.3 488.8v22.6M1094.7 457.0h22.6M1106.0 445.7v22.6M1094.7 471.9h22.6M1106.0 460.6v22.6M1094.7 479.7h22.6M1106.0 468.4v22.6M1094.7 499.1h22.6M1106.0 487.8v22.6M1094.7 508.4h22.6M1106.0 497.1v22.6M1100.1 447.0h22.6M1111.4 435.7v22.6M1100.1 457.9h22.6M1111.4 446.6v22.6M1100.1 465.8h22.6M1111.4 454.5v22.6M1100.1 473.9h22.6M1111.4 462.6v22.6M1100.1 488.8h22.6M1111.4 477.5v22.6M1100.1 499.0h22.6M1111.4 487.7v22.6M1105.2 452.6h22.6M1116.5 441.3v22.6M1105.2 466.8h22.6M1116.5 455.5v22.6M1105.2 482.3h22.6M1116.5 471.0v22.6M1105.2 502.0h22.6M1116.5 490.7v22.6M1110.0 438.8h22.6M1121.3 427.5v22.6M1110.0 458.7h22.6M1121.3 447.4v22.6M1110.0 470.0h22.6M1121.3 458.7v22.6M1110.0 480.5h22.6M1121.3 469.2v22.6M1110.0 499.3h22.6M1121.3 488.0v22.6M1114.6 428.1h22.6M1125.9 416.8v22.6M1114.6 451.1h22.6M1125.9 439.8v22.6M1114.6 473.0h22.6M1125.9 461.7v22.6M1114.6 490.5h22.6M1125.9 479.2v22.6M1119.1 440.9h22.6M1130.4 429.6v22.6M1119.1 453.1h22.6M1130.4 441.8v22.6M1119.1 473.1h22.6M1130.4 461.8v22.6M1119.1 485.6h22.6M1130.4 474.3v22.6M1123.3 430.1h22.6M1134.6 418.8v22.6M1123.3 441.7h22.6M1134.6 430.4v22.6M1123.3 462.8h22.6M1134.6 451.5v22.6M1123.3 472.6h22.6M1134.6 461.3v22.6M1123.3 485.1h22.6M1134.6 473.8v22.6M1127.4 436.0h22.6M1138.7 424.7v22.6M1127.4 450.0h22.6M1138.7 438.7v22.6M1127.4 475.5h22.6M1138.7 464.2v22.6M1127.4 488.1h22.6M1138.7 476.8v22.6M1131.2 438.7h22.6M1142.5 427.4v22.6M1131.2 455.0h22.6M1142.5 443.7v22.6M1131.2 475.0h22.6M1142.5 463.7v22.6M1131.2 486.7h22.6M1142.5 475.4v22.6M1135.0 444.0h22.6M1146.3 432.7v22.6M1135.0 466.4h22.6M1146.3 455.1v22.6M1138.6 436.1h22.6M1149.9 424.8v22.6M1138.6 464.4h22.6M1149.9 453.1v22.6M1142.1 449.0h22.6M1153.4 437.7v22.6M1142.1 469.4h22.6M1153.4 458.1v22.6M1145.5 449.1h22.6M1156.8 437.8v22.6M876.3 689.6h22.6M887.6 678.3v22.6M916.6 689.6h22.6M927.9 678.3v22.6M945.2 689.6h22.6M956.5 678.3v22.6M967.4 689.6h22.6M978.7 678.3v22.6M985.5 689.6h22.6M996.8 678.3v22.6" stroke="#ec1010" stroke-width="1.7" fill="none"/>
</g>
<line x1="887.6" y1="631.2" x2="1576.6" y2="42.0" stroke="#0404dc" stroke-width="2.8" stroke-dasharray="10.4 4.5" clip-path="url(#clipB)"/>
<rect x="887.7" y="10.0" width="686.5" height="688.3" fill="none" stroke="#000" stroke-width="1.5"/>
<line x1="1047.6" y1="698.3" x2="1047.6" y2="704.9" stroke="#000" stroke-width="1.5"/>
<text x="1023.1" y="731.3" font-size="27.2" text-anchor="start">10</text>
<text x="1057.6" y="720.9" font-size="19.0" text-anchor="start">1</text>
<line x1="1276.4" y1="698.3" x2="1276.4" y2="704.9" stroke="#000" stroke-width="1.5"/>
<text x="1251.9" y="731.3" font-size="27.2" text-anchor="start">10</text>
<text x="1286.4" y="720.9" font-size="19.0" text-anchor="start">2</text>
<line x1="1505.3" y1="698.3" x2="1505.3" y2="704.9" stroke="#000" stroke-width="1.5"/>
<text x="1480.8" y="731.3" font-size="27.2" text-anchor="start">10</text>
<text x="1515.3" y="720.9" font-size="19.0" text-anchor="start">3</text>
<line x1="887.6" y1="698.3" x2="887.6" y2="702.1" stroke="#000" stroke-width="1.1"/>
<line x1="927.9" y1="698.3" x2="927.9" y2="702.1" stroke="#000" stroke-width="1.1"/>
<line x1="956.5" y1="698.3" x2="956.5" y2="702.1" stroke="#000" stroke-width="1.1"/>
<line x1="978.7" y1="698.3" x2="978.7" y2="702.1" stroke="#000" stroke-width="1.1"/>
<line x1="996.8" y1="698.3" x2="996.8" y2="702.1" stroke="#000" stroke-width="1.1"/>
<line x1="1012.1" y1="698.3" x2="1012.1" y2="702.1" stroke="#000" stroke-width="1.1"/>
<line x1="1025.4" y1="698.3" x2="1025.4" y2="702.1" stroke="#000" stroke-width="1.1"/>
<line x1="1037.1" y1="698.3" x2="1037.1" y2="702.1" stroke="#000" stroke-width="1.1"/>
<line x1="1116.5" y1="698.3" x2="1116.5" y2="702.1" stroke="#000" stroke-width="1.1"/>
<line x1="1156.8" y1="698.3" x2="1156.8" y2="702.1" stroke="#000" stroke-width="1.1"/>
<line x1="1185.4" y1="698.3" x2="1185.4" y2="702.1" stroke="#000" stroke-width="1.1"/>
<line x1="1207.6" y1="698.3" x2="1207.6" y2="702.1" stroke="#000" stroke-width="1.1"/>
<line x1="1225.7" y1="698.3" x2="1225.7" y2="702.1" stroke="#000" stroke-width="1.1"/>
<line x1="1241.0" y1="698.3" x2="1241.0" y2="702.1" stroke="#000" stroke-width="1.1"/>
<line x1="1254.3" y1="698.3" x2="1254.3" y2="702.1" stroke="#000" stroke-width="1.1"/>
<line x1="1266.0" y1="698.3" x2="1266.0" y2="702.1" stroke="#000" stroke-width="1.1"/>
<line x1="1345.3" y1="698.3" x2="1345.3" y2="702.1" stroke="#000" stroke-width="1.1"/>
<line x1="1385.7" y1="698.3" x2="1385.7" y2="702.1" stroke="#000" stroke-width="1.1"/>
<line x1="1414.2" y1="698.3" x2="1414.2" y2="702.1" stroke="#000" stroke-width="1.1"/>
<line x1="1436.4" y1="698.3" x2="1436.4" y2="702.1" stroke="#000" stroke-width="1.1"/>
<line x1="1454.6" y1="698.3" x2="1454.6" y2="702.1" stroke="#000" stroke-width="1.1"/>
<line x1="1469.9" y1="698.3" x2="1469.9" y2="702.1" stroke="#000" stroke-width="1.1"/>
<line x1="1483.1" y1="698.3" x2="1483.1" y2="702.1" stroke="#000" stroke-width="1.1"/>
<line x1="1494.9" y1="698.3" x2="1494.9" y2="702.1" stroke="#000" stroke-width="1.1"/>
<line x1="1574.2" y1="698.3" x2="1574.2" y2="702.1" stroke="#000" stroke-width="1.1"/>
<line x1="881.1" y1="690.1" x2="887.7" y2="690.1" stroke="#000" stroke-width="1.5"/>
<text x="875.1" y="700.7" font-size="27.2" text-anchor="end">0</text>
<line x1="881.1" y1="605.1" x2="887.7" y2="605.1" stroke="#000" stroke-width="1.5"/>
<text x="875.1" y="615.7" font-size="27.2" text-anchor="end">1</text>
<line x1="881.1" y1="520.1" x2="887.7" y2="520.1" stroke="#000" stroke-width="1.5"/>
<text x="875.1" y="530.7" font-size="27.2" text-anchor="end">2</text>
<line x1="881.1" y1="435.1" x2="887.7" y2="435.1" stroke="#000" stroke-width="1.5"/>
<text x="875.1" y="445.7" font-size="27.2" text-anchor="end">3</text>
<line x1="881.1" y1="350.1" x2="887.7" y2="350.1" stroke="#000" stroke-width="1.5"/>
<text x="875.1" y="360.7" font-size="27.2" text-anchor="end">4</text>
<line x1="881.1" y1="265.1" x2="887.7" y2="265.1" stroke="#000" stroke-width="1.5"/>
<text x="875.1" y="275.7" font-size="27.2" text-anchor="end">5</text>
<line x1="881.1" y1="180.1" x2="887.7" y2="180.1" stroke="#000" stroke-width="1.5"/>
<text x="875.1" y="190.7" font-size="27.2" text-anchor="end">6</text>
<line x1="881.1" y1="95.1" x2="887.7" y2="95.1" stroke="#000" stroke-width="1.5"/>
<text x="875.1" y="105.7" font-size="27.2" text-anchor="end">7</text>
<line x1="881.1" y1="10.1" x2="887.7" y2="10.1" stroke="#000" stroke-width="1.5"/>
<text x="875.1" y="20.7" font-size="27.2" text-anchor="end">8</text>
<g clip-path="url(#clipC)">
<path d="M239.5 951.0h22.6M250.8 939.7v22.6M179.1 964.3h22.6M190.4 953.0v22.6M374.9 986.0h22.6M386.2 974.7v22.6M409.3 977.0h22.6M420.6 965.7v22.6M416.5 992.1h22.6M427.8 980.8v22.6M467.1 1016.7h22.6M478.4 1005.4v22.6M412.9 1040.2h22.6M424.2 1028.9v22.6M312.8 1007.0h22.6M324.1 995.7v22.6M334.5 1008.8h22.6M345.8 997.5v22.6M329.8 1023.2h22.6M341.1 1011.9v22.6M312.8 1034.8h22.6M324.1 1023.5v22.6M281.0 1037.7h22.6M292.3 1026.4v22.6M345.3 1045.6h22.6M356.6 1034.3v22.6M309.9 1058.3h22.6M321.2 1047.0v22.6M315.3 1070.9h22.6M326.6 1059.6v22.6M306.3 1076.3h22.6M317.6 1065.0v22.6M309.9 1089.0h22.6M321.2 1077.7v22.6M355.1 1076.3h22.6M366.4 1065.0v22.6M255.7 1072.7h22.6M267.0 1061.4v22.6M244.9 1083.5h22.6M256.2 1072.2v22.6M277.4 1094.4h22.6M288.7 1083.1v22.6M255.7 1102.7h22.6M267.0 1091.4v22.6M261.1 1105.2h22.6M272.4 1093.9v22.6M239.5 1112.4h22.6M250.8 1101.1v22.6M304.5 1119.7h22.6M315.8 1108.4v22.6M326.2 1123.3h22.6M337.5 1112.0v22.6M348.9 1114.2h22.6M360.2 1102.9v22.6M347.8 1128.7h22.6M359.1 1117.4v22.6M445.4 1095.5h22.6M456.7 1084.2v22.6M440.0 1110.6h22.6M451.3 1099.3v22.6M275.6 1135.9h22.6M286.9 1124.6v22.6M284.6 1137.7h22.6M295.9 1126.4v22.6M295.5 1141.3h22.6M306.8 1130.0v22.6M440.0 1145.0h22.6M451.3 1133.7v22.6M452.6 1159.4h22.6M463.9 1148.1v22.6M290.0 1163.0h22.6M301.3 1151.7v22.6M284.6 1166.6h22.6M295.9 1155.3v22.6M273.8 1175.7h22.6M285.1 1164.4v22.6M266.6 1181.1h22.6M277.9 1169.8v22.6M259.3 1182.9h22.6M270.6 1171.6v22.6M320.0 1190.8h22.6M331.3 1179.5v22.6M351.5 1184.7h22.6M362.8 1173.4v22.6M348.9 1197.3h22.6M360.2 1186.0v22.6M430.9 1196.6h22.6M442.2 1185.3v22.6M252.1 1201.0h22.6M263.4 1189.7v22.6M259.3 1201.7h22.6M270.6 1190.4v22.6M225.0 1190.1h22.6M236.3 1178.8v22.6M215.3 1208.9h22.6M226.6 1197.6v22.6M234.8 1223.4h22.6M246.1 1212.1v22.6M320.0 1222.6h22.6M331.3 1211.3v22.6M266.6 1222.6h22.6M277.9 1211.3v22.6M273.8 1233.5h22.6M285.1 1222.2v22.6M279.2 1240.0h22.6M290.5 1228.7v22.6M351.5 1240.7h22.6M362.8 1229.4v22.6M347.8 1253.3h22.6M359.1 1242.0v22.6M462.4 1236.4h22.6M473.7 1225.1v22.6M252.1 1254.4h22.6M263.4 1243.1v22.6M209.5 1249.7h22.6M220.8 1238.4v22.6M322.6 1263.1h22.6M333.9 1251.8v22.6M216.0 1267.8h22.6M227.3 1256.5v22.6M225.0 1276.8h22.6M236.3 1265.5v22.6M203.3 1282.2h22.6M214.6 1270.9v22.6M275.6 1273.2h22.6M286.9 1261.9v22.6M281.0 1276.8h22.6M292.3 1265.5v22.6M291.9 1281.2h22.6M303.2 1269.9v22.6M185.3 1294.9h22.6M196.6 1283.6v22.6M228.6 1300.3h22.6M239.9 1289.0v22.6M235.9 1309.3h22.6M247.2 1298.0v22.6M347.8 1331.0h22.6M359.1 1319.7v22.6M406.7 1361.7h22.6M418.0 1350.4v22.6M255.7 1375.1h22.6M267.0 1363.8v22.6M328.0 1409.8h22.6M339.3 1398.5v22.6M185.3 1397.8h22.6M196.6 1386.5v22.6M130.0 1378.0h22.6M141.3 1366.7v22.6M119.5 1338.2h22.6M130.8 1326.9v22.6M148.1 1341.1h22.6M159.4 1329.8v22.6M171.9 1354.5h22.6M183.2 1343.2v22.6M130.0 1439.4h22.6M141.3 1428.1v22.6M164.3 1435.8h22.6M175.6 1424.5v22.6M215.3 1442.3h22.6M226.6 1431.0v22.6M96.8 1467.6h22.6M108.1 1456.3v22.6M164.3 1469.0h22.6M175.6 1457.7v22.6M243.1 1470.8h22.6M254.4 1459.5v22.6M118.4 1237.1h22.6M129.7 1225.8v22.6M120.2 1247.9h22.6M131.5 1236.6v22.6M109.4 1266.0h22.6M120.7 1254.7v22.6M96.8 1233.5h22.6M108.1 1222.2v22.6M138.3 1221.9h22.6M149.6 1210.6v22.6M96.8 1291.3h22.6M108.1 1280.0v22.6M108.3 1294.9h22.6M119.6 1283.6v22.6M87.7 1287.7h22.6M99.0 1276.4v22.6M85.9 1307.5h22.6M97.2 1296.2v22.6M96.8 1199.1h22.6M108.1 1187.8v22.6M108.3 1203.8h22.6M119.6 1192.5v22.6M87.7 1199.1h22.6M99.0 1187.8v22.6M161.8 1204.6h22.6M173.1 1193.3v22.6M176.2 1227.0h22.6M187.5 1215.7v22.6M181.7 1238.9h22.6M193.0 1227.6v22.6M187.1 1251.5h22.6M198.4 1240.2v22.6M176.2 1251.5h22.6M187.5 1240.2v22.6M185.3 1199.1h22.6M196.6 1187.8v22.6M156.4 1199.1h22.6M167.7 1187.8v22.6M714.2 987.5h22.6M725.5 976.2v22.6M732.5 988.1h22.6M743.8 976.8v22.6M569.3 1012.9h22.6M580.6 1001.6v22.6M540.1 1091.0h22.6M551.4 1079.7v22.6M497.9 1234.5h22.6M509.2 1223.2v22.6M531.4 1254.9h22.6M542.7 1243.6v22.6M544.5 1250.5h22.6M555.8 1239.2v22.6M501.6 1342.3h22.6M512.9 1331.0v22.6M524.1 1361.9h22.6M535.4 1350.6v22.6M650.9 1367.7h22.6M662.2 1356.4v22.6M109.1 1244.0h22.6M120.4 1232.7v22.6M139.8 1216.0h22.6M151.1 1204.7v22.6M139.8 1228.7h22.6M151.1 1217.4v22.6M156.7 1183.3h22.6M168.0 1172.0v22.6M172.0 1188.7h22.6M183.3 1177.4v22.6M157.4 1218.0h22.6M168.7 1206.7v22.6M172.0 1238.7h22.6M183.3 1227.4v22.6M274.7 1182.7h22.6M286.0 1171.4v22.6M84.2 993.8h22.6M95.5 982.5v22.6M84.2 1014.7h22.6M95.5 1003.4v22.6M84.2 1041.1h22.6M95.5 1029.8v22.6M84.2 1068.2h22.6M95.5 1056.9v22.6M84.2 1081.7h22.6M95.5 1070.4v22.6M84.2 1094.1h22.6M95.5 1082.8v22.6M84.2 1126.2h22.6M95.5 1114.9v22.6M84.2 1144.4h22.6M95.5 1133.1v22.6M84.2 1162.0h22.6M95.5 1150.7v22.6M84.2 1197.9h22.6M95.5 1186.6v22.6M97.3 983.1h22.6M108.6 971.8v22.6M97.3 1006.5h22.6M108.6 995.2v22.6M97.3 1033.8h22.6M108.6 1022.5v22.6M97.3 1049.5h22.6M108.6 1038.2v22.6M97.3 1076.7h22.6M108.6 1065.4v22.6M97.3 1109.5h22.6M108.6 1098.2v22.6M97.3 1134.1h22.6M108.6 1122.8v22.6M97.3 1163.9h22.6M108.6 1152.6v22.6M97.3 1192.0h22.6M108.6 1180.7v22.6M97.3 1205.5h22.6M108.6 1194.2v22.6M109.3 977.2h22.6M120.6 965.9v22.6M109.3 996.4h22.6M120.6 985.1v22.6M109.3 1009.2h22.6M120.6 997.9v22.6M109.3 1041.9h22.6M120.6 1030.6v22.6M109.3 1065.3h22.6M120.6 1054.0v22.6M109.3 1094.5h22.6M120.6 1083.2v22.6M109.3 1127.6h22.6M120.6 1116.3v22.6M109.3 1156.8h22.6M120.6 1145.5v22.6M109.3 1190.9h22.6M120.6 1179.6v22.6M120.3 973.7h22.6M131.6 962.4v22.6M120.3 1008.1h22.6M131.6 996.8v22.6M120.3 1041.2h22.6M131.6 1029.9v22.6M120.3 1055.6h22.6M131.6 1044.3v22.6M120.3 1070.8h22.6M131.6 1059.5v22.6M120.3 1088.0h22.6M131.6 1076.7v22.6M120.3 1123.2h22.6M131.6 1111.9v22.6M120.3 1145.7h22.6M131.6 1134.4v22.6M120.3 1172.7h22.6M131.6 1161.4v22.6M120.3 1191.9h22.6M131.6 1180.6v22.6M130.4 972.3h22.6M141.7 961.0v22.6M130.4 992.7h22.6M141.7 981.4v22.6M130.4 1018.7h22.6M141.7 1007.4v22.6M130.4 1044.7h22.6M141.7 1033.4v22.6M130.4 1078.4h22.6M141.7 1067.1v22.6M130.4 1106.8h22.6M141.7 1095.5v22.6M130.4 1141.1h22.6M141.7 1129.8v22.6M130.4 1173.7h22.6M141.7 1162.4v22.6M130.4 1209.4h22.6M141.7 1198.1v22.6M139.9 999.6h22.6M151.2 988.3v22.6M139.9 1034.7h22.6M151.2 1023.4v22.6M139.9 1068.4h22.6M151.2 1057.1v22.6M139.9 1094.1h22.6M151.2 1082.8v22.6M139.9 1123.2h22.6M151.2 1111.9v22.6M139.9 1140.3h22.6M151.2 1129.0v22.6M139.9 1172.2h22.6M151.2 1160.9v22.6M139.9 1198.0h22.6M151.2 1186.7v22.6M148.8 997.0h22.6M160.1 985.7v22.6M148.8 1032.8h22.6M160.1 1021.5v22.6M148.8 1046.9h22.6M160.1 1035.6v22.6M148.8 1078.1h22.6M160.1 1066.8v22.6M148.8 1100.0h22.6M160.1 1088.7v22.6M148.8 1115.6h22.6M160.1 1104.3v22.6M148.8 1134.6h22.6M160.1 1123.3v22.6M148.8 1165.1h22.6M160.1 1153.8v22.6M148.8 1198.0h22.6M160.1 1186.7v22.6M148.8 1211.1h22.6M160.1 1199.8v22.6M157.1 993.3h22.6M168.4 982.0v22.6M157.1 1013.3h22.6M168.4 1002.0v22.6M157.1 1046.4h22.6M168.4 1035.1v22.6M157.1 1081.9h22.6M168.4 1070.6v22.6M157.1 1106.1h22.6M168.4 1094.8v22.6M157.1 1142.0h22.6M168.4 1130.7v22.6M157.1 1161.5h22.6M168.4 1150.2v22.6M157.1 1175.3h22.6M168.4 1164.0v22.6M157.1 1201.7h22.6M168.4 1190.4v22.6M165.0 999.4h22.6M176.3 988.1v22.6M165.0 1015.2h22.6M176.3 1003.9v22.6M165.0 1028.2h22.6M176.3 1016.9v22.6M165.0 1061.0h22.6M176.3 1049.7v22.6M165.0 1080.6h22.6M176.3 1069.3v22.6M165.0 1115.6h22.6M176.3 1104.3v22.6M165.0 1149.1h22.6M176.3 1137.8v22.6M165.0 1170.2h22.6M176.3 1158.9v22.6M165.0 1193.2h22.6M176.3 1181.9v22.6M172.4 1004.7h22.6M183.7 993.4v22.6M172.4 1030.2h22.6M183.7 1018.9v22.6M172.4 1057.1h22.6M183.7 1045.8v22.6M172.4 1091.6h22.6M183.7 1080.3v22.6M172.4 1115.8h22.6M183.7 1104.5v22.6M172.4 1138.1h22.6M183.7 1126.8v22.6M172.4 1167.4h22.6M183.7 1156.1v22.6M172.4 1185.1h22.6M183.7 1173.8v22.6M172.4 1204.4h22.6M183.7 1193.1v22.6M179.4 1000.7h22.6M190.7 989.4v22.6M179.4 1012.9h22.6M190.7 1001.6v22.6M179.4 1034.9h22.6M190.7 1023.6v22.6M179.4 1060.8h22.6M190.7 1049.5v22.6M179.4 1073.3h22.6M190.7 1062.0v22.6M179.4 1100.1h22.6M190.7 1088.8v22.6M179.4 1127.3h22.6M190.7 1116.0v22.6M179.4 1140.7h22.6M190.7 1129.4v22.6M179.4 1167.8h22.6M190.7 1156.5v22.6M179.4 1190.9h22.6M190.7 1179.6v22.6M186.2 1030.1h22.6M197.5 1018.8v22.6M186.2 1042.7h22.6M197.5 1031.4v22.6M186.2 1056.1h22.6M197.5 1044.8v22.6M186.2 1084.4h22.6M197.5 1073.1v22.6M186.2 1119.5h22.6M197.5 1108.2v22.6M186.2 1137.5h22.6M197.5 1126.2v22.6M186.2 1160.4h22.6M197.5 1149.1v22.6M186.2 1186.7h22.6M197.5 1175.4v22.6M186.2 1206.4h22.6M197.5 1195.1v22.6M192.5 1017.7h22.6M203.8 1006.4v22.6M192.5 1036.9h22.6M203.8 1025.6v22.6M192.5 1057.9h22.6M203.8 1046.6v22.6M192.5 1088.5h22.6M203.8 1077.2v22.6M192.5 1101.1h22.6M203.8 1089.8v22.6M192.5 1126.8h22.6M203.8 1115.5v22.6M192.5 1156.4h22.6M203.8 1145.1v22.6M192.5 1175.8h22.6M203.8 1164.5v22.6M192.5 1193.2h22.6M203.8 1181.9v22.6M198.7 1007.7h22.6M210.0 996.4v22.6M198.7 1036.4h22.6M210.0 1025.1v22.6M198.7 1050.9h22.6M210.0 1039.6v22.6M198.7 1070.6h22.6M210.0 1059.3v22.6M198.7 1090.6h22.6M210.0 1079.3v22.6M198.7 1122.6h22.6M210.0 1111.3v22.6M198.7 1145.1h22.6M210.0 1133.8v22.6M198.7 1177.7h22.6M210.0 1166.4v22.6M198.7 1193.7h22.6M210.0 1182.4v22.6M204.5 1007.1h22.6M215.8 995.8v22.6M204.5 1024.5h22.6M215.8 1013.2v22.6M204.5 1039.4h22.6M215.8 1028.1v22.6M204.5 1064.1h22.6M215.8 1052.8v22.6M204.5 1080.7h22.6M215.8 1069.4v22.6M204.5 1112.0h22.6M215.8 1100.7v22.6M204.5 1144.1h22.6M215.8 1132.8v22.6M204.5 1160.5h22.6M215.8 1149.2v22.6M204.5 1179.2h22.6M215.8 1167.9v22.6M210.1 1017.7h22.6M221.4 1006.4v22.6M210.1 1036.8h22.6M221.4 1025.5v22.6M210.1 1067.8h22.6M221.4 1056.5v22.6M210.1 1086.3h22.6M221.4 1075.0v22.6M210.1 1106.6h22.6M221.4 1095.3v22.6M210.1 1128.6h22.6M221.4 1117.3v22.6M210.1 1150.7h22.6M221.4 1139.4v22.6M210.1 1172.5h22.6M221.4 1161.2v22.6M215.5 1030.9h22.6M226.8 1019.6v22.6M215.5 1066.6h22.6M226.8 1055.3v22.6M215.5 1089.0h22.6M226.8 1077.7v22.6M215.5 1123.8h22.6M226.8 1112.5v22.6M215.5 1158.0h22.6M226.8 1146.7v22.6M215.5 1175.4h22.6M226.8 1164.1v22.6M220.7 1022.3h22.6M232.0 1011.0v22.6M220.7 1042.5h22.6M232.0 1031.2v22.6M220.7 1059.9h22.6M232.0 1048.6v22.6M220.7 1073.6h22.6M232.0 1062.3v22.6M220.7 1099.7h22.6M232.0 1088.4v22.6M220.7 1118.6h22.6M232.0 1107.3v22.6M220.7 1150.0h22.6M232.0 1138.7v22.6M225.7 1018.7h22.6M237.0 1007.4v22.6M225.7 1052.3h22.6M237.0 1041.0v22.6M225.7 1078.1h22.6M237.0 1066.8v22.6M225.7 1090.4h22.6M237.0 1079.1v22.6M225.7 1120.3h22.6M237.0 1109.0v22.6M230.5 1012.2h22.6M241.8 1000.9v22.6M230.5 1032.4h22.6M241.8 1021.1v22.6M230.5 1050.5h22.6M241.8 1039.2v22.6M230.5 1083.2h22.6M241.8 1071.9v22.6M230.5 1106.6h22.6M241.8 1095.3v22.6M235.2 1032.2h22.6M246.5 1020.9v22.6M235.2 1063.6h22.6M246.5 1052.3v22.6M84.2 1027.7h22.6M95.5 1016.4v22.6M84.2 1071.2h22.6M95.5 1059.9v22.6M97.3 1017.8h22.6M108.6 1006.5v22.6M97.3 1045.5h22.6M108.6 1034.2v22.6M97.3 1076.4h22.6M108.6 1065.1v22.6M97.3 1095.3h22.6M108.6 1084.0v22.6M109.3 1006.6h22.6M120.6 995.3v22.6M109.3 1035.3h22.6M120.6 1024.0v22.6M109.3 1051.0h22.6M120.6 1039.7v22.6M109.3 1068.6h22.6M120.6 1057.3v22.6M109.3 1104.9h22.6M120.6 1093.6v22.6M120.3 1015.4h22.6M131.6 1004.1v22.6M120.3 1052.4h22.6M131.6 1041.1v22.6M120.3 1078.2h22.6M131.6 1066.9v22.6M120.3 1094.9h22.6M131.6 1083.6v22.6M130.4 1017.7h22.6M141.7 1006.4v22.6M130.4 1052.4h22.6M141.7 1041.1v22.6M130.4 1086.0h22.6M141.7 1074.7v22.6M139.9 1010.9h22.6M151.2 999.6v22.6M139.9 1048.7h22.6M151.2 1037.4v22.6M139.9 1074.7h22.6M151.2 1063.4v22.6M139.9 1106.9h22.6M151.2 1095.6v22.6M148.8 1009.4h22.6M160.1 998.1v22.6M148.8 1027.0h22.6M160.1 1015.7v22.6M148.8 1056.2h22.6M160.1 1044.9v22.6M148.8 1092.8h22.6M160.1 1081.5v22.6M157.1 1013.4h22.6M168.4 1002.1v22.6M157.1 1047.7h22.6M168.4 1036.4v22.6M157.1 1068.2h22.6M168.4 1056.9v22.6M157.1 1088.5h22.6M168.4 1077.2v22.6M165.0 1024.3h22.6M176.3 1013.0v22.6M165.0 1042.3h22.6M176.3 1031.0v22.6M165.0 1058.4h22.6M176.3 1047.1v22.6M165.0 1081.7h22.6M176.3 1070.4v22.6M172.4 1036.0h22.6M183.7 1024.7v22.6M172.4 1059.7h22.6M183.7 1048.4v22.6M172.4 1083.8h22.6M183.7 1072.5v22.6" stroke="#ec1010" stroke-width="1.7" fill="none"/>
<g fill="#008000">
<circle cx="95.5" cy="929.8" r="3.4"/>
<circle cx="95.5" cy="929.8" r="3.4"/>
<circle cx="95.5" cy="932.1" r="3.4"/>
<circle cx="95.5" cy="936.7" r="3.4"/>
<circle cx="95.5" cy="939.0" r="3.4"/>
<circle cx="95.5" cy="941.3" r="3.4"/>
<circle cx="95.5" cy="943.6" r="3.4"/>
<circle cx="95.5" cy="945.9" r="3.4"/>
<circle cx="95.5" cy="948.2" r="3.4"/>
<circle cx="95.5" cy="950.5" r="3.4"/>
<circle cx="95.5" cy="952.8" r="3.4"/>
<circle cx="95.5" cy="955.1" r="3.4"/>
<circle cx="95.5" cy="957.4" r="3.4"/>
<circle cx="95.5" cy="959.7" r="3.4"/>
<circle cx="95.5" cy="961.3" r="3.4"/>
<circle cx="108.6" cy="927.2" r="3.4"/>
<circle cx="108.6" cy="927.2" r="3.4"/>
<circle cx="108.6" cy="931.8" r="3.4"/>
<circle cx="108.6" cy="936.4" r="3.4"/>
<circle cx="108.6" cy="938.7" r="3.4"/>
<circle cx="108.6" cy="941.0" r="3.4"/>
<circle cx="108.6" cy="943.3" r="3.4"/>
<circle cx="108.6" cy="945.6" r="3.4"/>
<circle cx="108.6" cy="947.9" r="3.4"/>
<circle cx="108.6" cy="952.5" r="3.4"/>
<circle cx="108.6" cy="954.8" r="3.4"/>
<circle cx="108.6" cy="955.7" r="3.4"/>
<circle cx="120.6" cy="923.2" r="3.4"/>
<circle cx="120.6" cy="923.2" r="3.4"/>
<circle cx="120.6" cy="925.5" r="3.4"/>
<circle cx="120.6" cy="927.8" r="3.4"/>
<circle cx="120.6" cy="930.1" r="3.4"/>
<circle cx="120.6" cy="934.7" r="3.4"/>
<circle cx="120.6" cy="939.3" r="3.4"/>
<circle cx="120.6" cy="941.6" r="3.4"/>
<circle cx="120.6" cy="943.9" r="3.4"/>
<circle cx="120.6" cy="948.5" r="3.4"/>
<circle cx="120.6" cy="950.8" r="3.4"/>
<circle cx="120.6" cy="952.6" r="3.4"/>
<circle cx="131.6" cy="921.6" r="3.4"/>
<circle cx="131.6" cy="921.6" r="3.4"/>
<circle cx="131.6" cy="923.9" r="3.4"/>
<circle cx="131.6" cy="926.2" r="3.4"/>
<circle cx="131.6" cy="930.8" r="3.4"/>
<circle cx="131.6" cy="933.1" r="3.4"/>
<circle cx="131.6" cy="935.4" r="3.4"/>
<circle cx="131.6" cy="937.7" r="3.4"/>
<circle cx="131.6" cy="940.0" r="3.4"/>
<circle cx="131.6" cy="944.5" r="3.4"/>
<circle cx="141.7" cy="919.1" r="3.4"/>
<circle cx="141.7" cy="919.1" r="3.4"/>
<circle cx="141.7" cy="921.4" r="3.4"/>
<circle cx="141.7" cy="923.7" r="3.4"/>
<circle cx="141.7" cy="926.0" r="3.4"/>
<circle cx="141.7" cy="928.3" r="3.4"/>
<circle cx="141.7" cy="930.6" r="3.4"/>
<circle cx="141.7" cy="932.9" r="3.4"/>
<circle cx="141.7" cy="935.2" r="3.4"/>
<circle cx="141.7" cy="937.5" r="3.4"/>
<circle cx="141.7" cy="939.8" r="3.4"/>
<circle cx="141.7" cy="942.0" r="3.4"/>
<circle cx="151.2" cy="919.1" r="3.4"/>
<circle cx="151.2" cy="921.4" r="3.4"/>
<circle cx="151.2" cy="923.7" r="3.4"/>
<circle cx="151.2" cy="928.3" r="3.4"/>
<circle cx="151.2" cy="930.6" r="3.4"/>
<circle cx="151.2" cy="932.9" r="3.4"/>
<circle cx="151.2" cy="935.2" r="3.4"/>
<circle cx="151.2" cy="935.4" r="3.4"/>
<circle cx="160.1" cy="910.5" r="3.4"/>
<circle cx="160.1" cy="910.5" r="3.4"/>
<circle cx="160.1" cy="912.8" r="3.4"/>
<circle cx="160.1" cy="915.1" r="3.4"/>
<circle cx="160.1" cy="917.4" r="3.4"/>
<circle cx="160.1" cy="919.7" r="3.4"/>
<circle cx="160.1" cy="922.0" r="3.4"/>
<circle cx="160.1" cy="924.3" r="3.4"/>
<circle cx="160.1" cy="931.2" r="3.4"/>
<circle cx="160.1" cy="933.5" r="3.4"/>
<circle cx="160.1" cy="935.8" r="3.4"/>
<circle cx="160.1" cy="937.9" r="3.4"/>
<circle cx="168.4" cy="911.0" r="3.4"/>
<circle cx="168.4" cy="911.0" r="3.4"/>
<circle cx="168.4" cy="913.3" r="3.4"/>
<circle cx="168.4" cy="917.9" r="3.4"/>
<circle cx="168.4" cy="920.2" r="3.4"/>
<circle cx="168.4" cy="922.5" r="3.4"/>
<circle cx="168.4" cy="924.8" r="3.4"/>
<circle cx="168.4" cy="927.1" r="3.4"/>
<circle cx="168.4" cy="929.4" r="3.4"/>
<circle cx="168.4" cy="931.7" r="3.4"/>
<circle cx="168.4" cy="934.0" r="3.4"/>
<circle cx="168.4" cy="936.3" r="3.4"/>
<circle cx="168.4" cy="938.6" r="3.4"/>
<circle cx="168.4" cy="943.0" r="3.4"/>
<circle cx="176.3" cy="910.5" r="3.4"/>
<circle cx="176.3" cy="910.5" r="3.4"/>
<circle cx="176.3" cy="912.8" r="3.4"/>
<circle cx="176.3" cy="917.4" r="3.4"/>
<circle cx="176.3" cy="919.7" r="3.4"/>
<circle cx="176.3" cy="922.0" r="3.4"/>
<circle cx="176.3" cy="924.3" r="3.4"/>
<circle cx="176.3" cy="924.7" r="3.4"/>
<circle cx="183.7" cy="905.4" r="3.4"/>
<circle cx="183.7" cy="905.4" r="3.4"/>
<circle cx="183.7" cy="907.7" r="3.4"/>
<circle cx="183.7" cy="910.0" r="3.4"/>
<circle cx="183.7" cy="912.3" r="3.4"/>
<circle cx="183.7" cy="914.6" r="3.4"/>
<circle cx="183.7" cy="916.9" r="3.4"/>
<circle cx="183.7" cy="919.2" r="3.4"/>
<circle cx="183.7" cy="921.5" r="3.4"/>
<circle cx="183.7" cy="923.8" r="3.4"/>
<circle cx="183.7" cy="926.1" r="3.4"/>
<circle cx="183.7" cy="928.4" r="3.4"/>
<circle cx="183.7" cy="930.7" r="3.4"/>
<circle cx="183.7" cy="933.0" r="3.4"/>
<circle cx="183.7" cy="933.8" r="3.4"/>
<circle cx="190.7" cy="902.3" r="3.4"/>
<circle cx="190.7" cy="902.3" r="3.4"/>
<circle cx="190.7" cy="904.6" r="3.4"/>
<circle cx="190.7" cy="906.9" r="3.4"/>
<circle cx="190.7" cy="911.5" r="3.4"/>
<circle cx="190.7" cy="913.8" r="3.4"/>
<circle cx="190.7" cy="916.1" r="3.4"/>
<circle cx="190.7" cy="918.4" r="3.4"/>
<circle cx="190.7" cy="920.7" r="3.4"/>
<circle cx="190.7" cy="923.0" r="3.4"/>
<circle cx="190.7" cy="923.7" r="3.4"/>
<circle cx="197.5" cy="896.8" r="3.4"/>
<circle cx="197.5" cy="896.8" r="3.4"/>
<circle cx="197.5" cy="899.1" r="3.4"/>
<circle cx="197.5" cy="901.4" r="3.4"/>
<circle cx="197.5" cy="903.7" r="3.4"/>
<circle cx="197.5" cy="906.0" r="3.4"/>
<circle cx="197.5" cy="908.3" r="3.4"/>
<circle cx="197.5" cy="912.9" r="3.4"/>
<circle cx="197.5" cy="915.2" r="3.4"/>
<circle cx="197.5" cy="917.5" r="3.4"/>
<circle cx="197.5" cy="922.1" r="3.4"/>
<circle cx="197.5" cy="924.4" r="3.4"/>
<circle cx="197.5" cy="926.7" r="3.4"/>
<circle cx="197.5" cy="929.0" r="3.4"/>
<circle cx="197.5" cy="929.8" r="3.4"/>
<circle cx="203.8" cy="903.4" r="3.4"/>
<circle cx="203.8" cy="903.4" r="3.4"/>
<circle cx="203.8" cy="905.7" r="3.4"/>
<circle cx="203.8" cy="908.0" r="3.4"/>
<circle cx="203.8" cy="910.3" r="3.4"/>
<circle cx="203.8" cy="912.6" r="3.4"/>
<circle cx="203.8" cy="914.9" r="3.4"/>
<circle cx="203.8" cy="917.2" r="3.4"/>
<circle cx="203.8" cy="919.5" r="3.4"/>
<circle cx="203.8" cy="921.8" r="3.4"/>
<circle cx="203.8" cy="922.7" r="3.4"/>
<circle cx="210.0" cy="902.3" r="3.4"/>
<circle cx="210.0" cy="902.3" r="3.4"/>
<circle cx="210.0" cy="904.6" r="3.4"/>
<circle cx="210.0" cy="906.9" r="3.4"/>
<circle cx="210.0" cy="909.2" r="3.4"/>
<circle cx="210.0" cy="913.8" r="3.4"/>
<circle cx="210.0" cy="916.1" r="3.4"/>
<circle cx="210.0" cy="918.4" r="3.4"/>
<circle cx="210.0" cy="918.6" r="3.4"/>
<circle cx="215.8" cy="900.3" r="3.4"/>
<circle cx="215.8" cy="900.3" r="3.4"/>
<circle cx="215.8" cy="902.6" r="3.4"/>
<circle cx="215.8" cy="904.9" r="3.4"/>
<circle cx="215.8" cy="907.2" r="3.4"/>
<circle cx="215.8" cy="909.5" r="3.4"/>
<circle cx="215.8" cy="911.8" r="3.4"/>
<circle cx="215.8" cy="916.4" r="3.4"/>
<circle cx="215.8" cy="921.0" r="3.4"/>
<circle cx="215.8" cy="924.7" r="3.4"/>
<circle cx="221.4" cy="900.3" r="3.4"/>
<circle cx="221.4" cy="900.3" r="3.4"/>
<circle cx="221.4" cy="902.6" r="3.4"/>
<circle cx="221.4" cy="904.9" r="3.4"/>
<circle cx="221.4" cy="907.2" r="3.4"/>
<circle cx="221.4" cy="909.5" r="3.4"/>
<circle cx="221.4" cy="911.8" r="3.4"/>
<circle cx="221.4" cy="914.1" r="3.4"/>
<circle cx="221.4" cy="915.6" r="3.4"/>
<circle cx="226.8" cy="897.3" r="3.4"/>
<circle cx="226.8" cy="897.3" r="3.4"/>
<circle cx="226.8" cy="899.6" r="3.4"/>
<circle cx="226.8" cy="901.9" r="3.4"/>
<circle cx="226.8" cy="904.2" r="3.4"/>
<circle cx="226.8" cy="906.5" r="3.4"/>
<circle cx="226.8" cy="908.8" r="3.4"/>
<circle cx="226.8" cy="911.1" r="3.4"/>
<circle cx="226.8" cy="913.4" r="3.4"/>
<circle cx="226.8" cy="915.7" r="3.4"/>
<circle cx="226.8" cy="918.0" r="3.4"/>
<circle cx="226.8" cy="920.6" r="3.4"/>
<circle cx="95.5" cy="973.0" r="3.4"/>
<circle cx="108.6" cy="962.8" r="3.4"/>
<circle cx="151.2" cy="904.9" r="3.4"/>
<circle cx="151.2" cy="946.5" r="3.4"/>
<circle cx="232.0" cy="897.4" r="3.4"/>
<circle cx="232.0" cy="900.4" r="3.4"/>
<circle cx="232.0" cy="906.4" r="3.4"/>
<circle cx="232.0" cy="912.4" r="3.4"/>
<circle cx="232.0" cy="915.4" r="3.4"/>
<circle cx="237.0" cy="896.9" r="3.4"/>
<circle cx="237.0" cy="902.9" r="3.4"/>
<circle cx="237.0" cy="905.9" r="3.4"/>
<circle cx="237.0" cy="914.9" r="3.4"/>
<circle cx="237.0" cy="917.9" r="3.4"/>
<circle cx="241.8" cy="905.4" r="3.4"/>
<circle cx="241.8" cy="911.4" r="3.4"/>
<circle cx="241.8" cy="917.4" r="3.4"/>
<circle cx="241.8" cy="920.4" r="3.4"/>
<circle cx="246.5" cy="896.3" r="3.4"/>
<circle cx="246.5" cy="899.3" r="3.4"/>
<circle cx="246.5" cy="905.3" r="3.4"/>
<circle cx="246.5" cy="914.3" r="3.4"/>
<circle cx="251.0" cy="897.2" r="3.4"/>
<circle cx="251.0" cy="900.2" r="3.4"/>
<circle cx="251.0" cy="903.2" r="3.4"/>
<circle cx="251.0" cy="912.2" r="3.4"/>
<circle cx="255.3" cy="904.1" r="3.4"/>
<circle cx="255.3" cy="913.1" r="3.4"/>
<circle cx="259.6" cy="910.9" r="3.4"/>
<circle cx="263.7" cy="898.6" r="3.4"/>
<circle cx="263.7" cy="907.6" r="3.4"/>
<circle cx="263.7" cy="913.6" r="3.4"/>
<circle cx="267.6" cy="910.2" r="3.4"/>
<circle cx="275.3" cy="900.3" r="3.4"/>
<circle cx="278.9" cy="897.0" r="3.4"/>
<circle cx="278.9" cy="900.0" r="3.4"/>
<circle cx="278.9" cy="906.0" r="3.4"/>
<circle cx="278.9" cy="912.0" r="3.4"/>
<circle cx="282.5" cy="896.8" r="3.4"/>
<circle cx="282.5" cy="899.8" r="3.4"/>
<circle cx="282.5" cy="905.8" r="3.4"/>
<circle cx="282.5" cy="908.8" r="3.4"/>
<circle cx="282.5" cy="911.8" r="3.4"/>
<circle cx="286.0" cy="899.6" r="3.4"/>
<circle cx="289.4" cy="899.5" r="3.4"/>
<circle cx="289.4" cy="905.5" r="3.4"/>
<circle cx="292.7" cy="899.3" r="3.4"/>
<circle cx="292.7" cy="902.3" r="3.4"/>
<circle cx="292.7" cy="905.3" r="3.4"/>
<circle cx="292.7" cy="908.3" r="3.4"/>
<circle cx="295.9" cy="902.2" r="3.4"/>
<circle cx="295.9" cy="905.2" r="3.4"/>
<circle cx="299.1" cy="896.0" r="3.4"/>
<circle cx="302.2" cy="901.7" r="3.4"/>
<circle cx="305.2" cy="901.2" r="3.4"/>
<circle cx="305.2" cy="904.2" r="3.4"/>
<circle cx="305.2" cy="907.2" r="3.4"/>
<circle cx="308.2" cy="897.8" r="3.4"/>
<circle cx="308.2" cy="900.8" r="3.4"/>
<circle cx="308.2" cy="903.8" r="3.4"/>
<circle cx="308.2" cy="906.8" r="3.4"/>
<circle cx="311.0" cy="894.3" r="3.4"/>
<circle cx="311.0" cy="897.3" r="3.4"/>
<circle cx="311.0" cy="900.3" r="3.4"/>
<circle cx="311.0" cy="903.3" r="3.4"/>
<circle cx="311.0" cy="906.3" r="3.4"/>
<circle cx="313.9" cy="893.9" r="3.4"/>
<circle cx="313.9" cy="896.9" r="3.4"/>
<circle cx="313.9" cy="905.9" r="3.4"/>
<circle cx="316.7" cy="893.5" r="3.4"/>
<circle cx="316.7" cy="896.5" r="3.4"/>
<circle cx="316.7" cy="899.5" r="3.4"/>
<circle cx="316.7" cy="902.5" r="3.4"/>
<circle cx="319.4" cy="902.1" r="3.4"/>
<circle cx="319.4" cy="905.1" r="3.4"/>
<circle cx="322.0" cy="892.9" r="3.4"/>
<circle cx="322.0" cy="895.9" r="3.4"/>
<circle cx="322.0" cy="901.9" r="3.4"/>
<circle cx="322.0" cy="904.9" r="3.4"/>
<circle cx="324.7" cy="898.8" r="3.4"/>
<circle cx="324.7" cy="904.8" r="3.4"/>
<circle cx="327.2" cy="904.7" r="3.4"/>
<circle cx="329.8" cy="892.6" r="3.4"/>
<circle cx="329.8" cy="895.6" r="3.4"/>
<circle cx="332.2" cy="892.5" r="3.4"/>
<circle cx="332.2" cy="895.5" r="3.4"/>
<circle cx="334.7" cy="901.4" r="3.4"/>
<circle cx="385.8" cy="895.6" r="3.4"/>
<circle cx="417.8" cy="892.9" r="3.4"/>
<circle cx="423.1" cy="892.0" r="3.4"/>
<circle cx="427.6" cy="890.2" r="3.4"/>
<circle cx="441.8" cy="886.3" r="3.4"/>
<circle cx="451.6" cy="889.9" r="3.4"/>
<circle cx="456.9" cy="890.2" r="3.4"/>
<circle cx="463.1" cy="890.6" r="3.4"/>
<circle cx="472.9" cy="888.1" r="3.4"/>
<circle cx="478.2" cy="890.6" r="3.4"/>
<circle cx="508.4" cy="891.6" r="3.4"/>
<circle cx="512.9" cy="886.3" r="3.4"/>
<circle cx="357.3" cy="889.3" r="3.4"/>
<circle cx="362.7" cy="892.9" r="3.4"/>
<circle cx="367.1" cy="892.9" r="3.4"/>
<circle cx="339.6" cy="892.0" r="3.4"/>
<circle cx="346.7" cy="896.4" r="3.4"/>
<circle cx="332.4" cy="899.1" r="3.4"/>
<circle cx="323.6" cy="904.4" r="3.4"/>
<circle cx="331.6" cy="908.0" r="3.4"/>
<circle cx="316.4" cy="892.0" r="3.4"/>
<circle cx="321.8" cy="893.8" r="3.4"/>
<circle cx="327.1" cy="895.6" r="3.4"/>
<circle cx="302.2" cy="892.9" r="3.4"/>
<circle cx="295.1" cy="892.9" r="3.4"/>
<circle cx="309.3" cy="900.0" r="3.4"/>
<circle cx="535.2" cy="887.0" r="3.4"/>
<circle cx="542.3" cy="886.3" r="3.4"/>
<circle cx="551.2" cy="888.1" r="3.4"/>
<circle cx="556.5" cy="885.8" r="3.4"/>
<circle cx="580.9" cy="884.9" r="3.4"/>
<circle cx="580.9" cy="889.3" r="3.4"/>
<circle cx="661.8" cy="885.2" r="3.4"/>
<circle cx="725.8" cy="888.4" r="3.4"/>
<circle cx="744.4" cy="885.8" r="3.4"/>
</g>
</g>
<rect x="95.4" y="811.4" width="686.4" height="688.7" fill="none" stroke="#000" stroke-width="1.5"/>
<line x1="95.5" y1="1500.1" x2="95.5" y2="1506.7" stroke="#000" stroke-width="1.5"/>
<text x="71.0" y="1533.1" font-size="27.2" text-anchor="start">10</text>
<text x="105.5" y="1522.7" font-size="19.0" text-anchor="start">1</text>
<line x1="411.9" y1="1500.1" x2="411.9" y2="1506.7" stroke="#000" stroke-width="1.5"/>
<text x="387.4" y="1533.1" font-size="27.2" text-anchor="start">10</text>
<text x="421.9" y="1522.7" font-size="19.0" text-anchor="start">2</text>
<line x1="728.3" y1="1500.1" x2="728.3" y2="1506.7" stroke="#000" stroke-width="1.5"/>
<text x="703.8" y="1533.1" font-size="27.2" text-anchor="start">10</text>
<text x="738.3" y="1522.7" font-size="19.0" text-anchor="start">3</text>
<line x1="190.7" y1="1500.1" x2="190.7" y2="1503.9" stroke="#000" stroke-width="1.1"/>
<line x1="246.5" y1="1500.1" x2="246.5" y2="1503.9" stroke="#000" stroke-width="1.1"/>
<line x1="286.0" y1="1500.1" x2="286.0" y2="1503.9" stroke="#000" stroke-width="1.1"/>
<line x1="316.7" y1="1500.1" x2="316.7" y2="1503.9" stroke="#000" stroke-width="1.1"/>
<line x1="341.7" y1="1500.1" x2="341.7" y2="1503.9" stroke="#000" stroke-width="1.1"/>
<line x1="362.9" y1="1500.1" x2="362.9" y2="1503.9" stroke="#000" stroke-width="1.1"/>
<line x1="381.2" y1="1500.1" x2="381.2" y2="1503.9" stroke="#000" stroke-width="1.1"/>
<line x1="397.4" y1="1500.1" x2="397.4" y2="1503.9" stroke="#000" stroke-width="1.1"/>
<line x1="507.1" y1="1500.1" x2="507.1" y2="1503.9" stroke="#000" stroke-width="1.1"/>
<line x1="562.9" y1="1500.1" x2="562.9" y2="1503.9" stroke="#000" stroke-width="1.1"/>
<line x1="602.4" y1="1500.1" x2="602.4" y2="1503.9" stroke="#000" stroke-width="1.1"/>
<line x1="633.1" y1="1500.1" x2="633.1" y2="1503.9" stroke="#000" stroke-width="1.1"/>
<line x1="658.1" y1="1500.1" x2="658.1" y2="1503.9" stroke="#000" stroke-width="1.1"/>
<line x1="679.3" y1="1500.1" x2="679.3" y2="1503.9" stroke="#000" stroke-width="1.1"/>
<line x1="697.6" y1="1500.1" x2="697.6" y2="1503.9" stroke="#000" stroke-width="1.1"/>
<line x1="713.8" y1="1500.1" x2="713.8" y2="1503.9" stroke="#000" stroke-width="1.1"/>
<line x1="88.8" y1="1369.0" x2="95.4" y2="1369.0" stroke="#000" stroke-width="1.5"/>
<text x="82.8" y="1379.6" font-size="27.2" text-anchor="end">0.1</text>
<line x1="88.8" y1="1229.6" x2="95.4" y2="1229.6" stroke="#000" stroke-width="1.5"/>
<text x="82.8" y="1240.2" font-size="27.2" text-anchor="end">0.2</text>
<line x1="88.8" y1="1090.2" x2="95.4" y2="1090.2" stroke="#000" stroke-width="1.5"/>
<text x="82.8" y="1100.8" font-size="27.2" text-anchor="end">0.3</text>
<line x1="88.8" y1="950.8" x2="95.4" y2="950.8" stroke="#000" stroke-width="1.5"/>
<text x="82.8" y="961.4" font-size="27.2" text-anchor="end">0.4</text>
<line x1="88.8" y1="811.4" x2="95.4" y2="811.4" stroke="#000" stroke-width="1.5"/>
<text x="82.8" y="822.0" font-size="27.2" text-anchor="end">0.5</text>
<g clip-path="url(#clipD)">
<path d="M945.2 1432.6h22.6M956.5 1421.3v22.6M967.3 1437.5h22.6M978.6 1426.2v22.6M967.3 1440.4h22.6M978.6 1429.1v22.6M967.3 1443.7h22.6M978.6 1432.4v22.6M967.3 1453.6h22.6M978.6 1442.3v22.6M985.3 1398.4h22.6M996.6 1387.1v22.6M985.3 1402.5h22.6M996.6 1391.2v22.6M985.3 1410.8h22.6M996.6 1399.5v22.6M985.3 1424.0h22.6M996.6 1412.7v22.6M985.3 1432.6h22.6M996.6 1421.3v22.6M1000.6 1405.8h22.6M1011.9 1394.5v22.6M1000.6 1407.9h22.6M1011.9 1396.6v22.6M1000.6 1421.5h22.6M1011.9 1410.2v22.6M1000.6 1433.4h22.6M1011.9 1422.1v22.6M1000.6 1435.9h22.6M1011.9 1424.6v22.6M1000.6 1443.7h22.6M1011.9 1432.4v22.6M1000.6 1449.1h22.6M1011.9 1437.8v22.6M1000.6 1456.5h22.6M1011.9 1445.2v22.6M1000.6 1459.8h22.6M1011.9 1448.5v22.6M1000.6 1466.4h22.6M1011.9 1455.1v22.6M1000.6 1475.8h22.6M1011.9 1464.5v22.6M1013.8 1373.3h22.6M1025.1 1362.0v22.6M1013.8 1378.2h22.6M1025.1 1366.9v22.6M1013.8 1385.2h22.6M1025.1 1373.9v22.6M1013.8 1393.9h22.6M1025.1 1382.6v22.6M1013.8 1396.4h22.6M1025.1 1385.1v22.6M1013.8 1400.5h22.6M1025.1 1389.2v22.6M1013.8 1402.9h22.6M1025.1 1391.6v22.6M1013.8 1408.3h22.6M1025.1 1397.0v22.6M1013.8 1475.8h22.6M1025.1 1464.5v22.6M1025.5 1381.5h22.6M1036.8 1370.2v22.6M1025.5 1390.6h22.6M1036.8 1379.3v22.6M1025.5 1395.5h22.6M1036.8 1384.2v22.6M1025.5 1400.5h22.6M1036.8 1389.2v22.6M1025.5 1404.6h22.6M1036.8 1393.3v22.6M1025.5 1411.2h22.6M1036.8 1399.9v22.6M1025.5 1415.3h22.6M1036.8 1404.0v22.6M1025.5 1421.5h22.6M1036.8 1410.2v22.6M1025.5 1428.9h22.6M1036.8 1417.6v22.6M1025.5 1431.4h22.6M1036.8 1420.1v22.6M1025.5 1435.9h22.6M1036.8 1424.6v22.6M1025.5 1439.6h22.6M1036.8 1428.3v22.6M1025.5 1443.3h22.6M1036.8 1432.0v22.6M1035.9 1376.6h22.6M1047.2 1365.3v22.6M1035.9 1385.2h22.6M1047.2 1373.9v22.6M1035.9 1391.4h22.6M1047.2 1380.1v22.6M1035.9 1395.5h22.6M1047.2 1384.2v22.6M1035.9 1401.3h22.6M1047.2 1390.0v22.6M1035.9 1406.2h22.6M1047.2 1394.9v22.6M1035.9 1412.0h22.6M1047.2 1400.7v22.6M1035.9 1415.3h22.6M1047.2 1404.0v22.6M1035.9 1421.5h22.6M1047.2 1410.2v22.6M1035.9 1433.0h22.6M1047.2 1421.7v22.6M1035.9 1441.7h22.6M1047.2 1430.4v22.6M1035.9 1466.8h22.6M1047.2 1455.5v22.6M1045.3 1424.0h22.6M1056.6 1412.7v22.6M1045.3 1433.0h22.6M1056.6 1421.7v22.6M1045.3 1441.7h22.6M1056.6 1430.4v22.6M1045.3 1444.5h22.6M1056.6 1433.2v22.6M1045.3 1373.3h22.6M1056.6 1362.0v22.6M1045.3 1381.5h22.6M1056.6 1370.2v22.6M1045.3 1394.7h22.6M1056.6 1383.4v22.6M1053.9 1374.9h22.6M1065.2 1363.6v22.6M1053.9 1379.9h22.6M1065.2 1368.6v22.6M1053.9 1386.5h22.6M1065.2 1375.2v22.6M1053.9 1393.1h22.6M1065.2 1381.8v22.6M1053.9 1398.8h22.6M1065.2 1387.5v22.6M1053.9 1404.6h22.6M1065.2 1393.3v22.6M1053.9 1411.2h22.6M1065.2 1399.9v22.6M1061.9 1414.9h22.6M1073.2 1403.6v22.6M1061.9 1417.0h22.6M1073.2 1405.7v22.6M1061.9 1422.3h22.6M1073.2 1411.0v22.6M1061.9 1440.0h22.6M1073.2 1428.7v22.6M1061.9 1443.3h22.6M1073.2 1432.0v22.6M1061.9 1457.7h22.6M1073.2 1446.4v22.6M1061.9 1378.2h22.6M1073.2 1366.9v22.6M1061.9 1390.6h22.6M1073.2 1379.3v22.6M1061.9 1402.9h22.6M1073.2 1391.6v22.6M916.7 1432.0h22.6M928.0 1420.7v22.6M1069.0 1457.6h22.6M1080.3 1446.3v22.6M1088.9 1432.0h22.6M1100.2 1420.7v22.6M1088.9 1439.1h22.6M1100.2 1427.8v22.6M1104.6 1410.6h22.6M1115.9 1399.3v22.6M1134.5 1407.8h22.6M1145.8 1396.5v22.6M1212.9 1436.3h22.6M1224.2 1425.0v22.6M1235.7 1393.5h22.6M1247.0 1382.2v22.6M1241.4 1396.4h22.6M1252.7 1385.1v22.6M1247.1 1402.1h22.6M1258.4 1390.8v22.6M1154.5 1382.1h22.6M1165.8 1370.8v22.6M1210.1 1382.1h22.6M1221.4 1370.8v22.6M1198.7 1360.7h22.6M1210.0 1349.4v22.6M1187.3 1360.7h22.6M1198.6 1349.4v22.6M1175.9 1356.4h22.6M1187.2 1345.1v22.6M1154.5 1362.1h22.6M1165.8 1350.8v22.6M1194.4 1327.9h22.6M1205.7 1316.6v22.6M1224.3 1325.1h22.6M1235.6 1313.8v22.6M1227.2 1306.6h22.6M1238.5 1295.3v22.6M1232.9 1292.3h22.6M1244.2 1281.0v22.6M1247.1 1262.4h22.6M1258.4 1251.1v22.6M1212.9 1266.6h22.6M1224.2 1255.3v22.6M1187.3 1272.3h22.6M1198.6 1261.0v22.6M1514.3 1050.7h22.6M1525.6 1039.4v22.6M1528.5 1043.1h22.6M1539.8 1031.8v22.6M1445.4 1104.4h22.6M1456.7 1093.1v22.6M1422.6 1124.7h22.6M1433.9 1113.4v22.6M1421.8 1152.8h22.6M1433.1 1141.5v22.6M1307.8 1212.1h22.6M1319.1 1200.8v22.6M1332.6 1204.8h22.6M1343.9 1193.5v22.6M1329.3 1230.1h22.6M1340.6 1218.8v22.6M1360.0 1246.3h22.6M1371.3 1235.0v22.6M1366.8 1245.3h22.6M1378.1 1234.0v22.6M1375.7 1236.2h22.6M1387.0 1224.9v22.6M1282.4 1256.5h22.6M1293.7 1245.2v22.6M1269.2 1273.7h22.6M1280.5 1262.4v22.6M1295.1 1280.0h22.6M1306.4 1268.7v22.6M1313.1 1267.4h22.6M1324.4 1256.1v22.6M1285.7 1319.3h22.6M1297.0 1308.0v22.6M1292.1 1330.7h22.6M1303.4 1319.4v22.6M1364.3 1344.1h22.6M1375.6 1332.8v22.6M1342.0 1361.9h22.6M1353.3 1350.6v22.6M1276.3 1370.5h22.6M1287.6 1359.2v22.6M1299.7 1378.9h22.6M1311.0 1367.6v22.6M1154.9 1328.0h22.6M1166.2 1316.7v22.6M1176.3 1335.1h22.6M1187.6 1323.8v22.6M1176.3 1344.9h22.6M1187.6 1333.6v22.6M1169.1 1306.7h22.6M1180.4 1295.4v22.6M1210.9 1361.3h22.6M1222.2 1350.0v22.6M1152.3 1356.4h22.6M1163.6 1345.1v22.6M1219.4 1306.7h22.6M1230.7 1295.4v22.6M1205.6 1309.3h22.6M1216.9 1298.0v22.6M1209.1 1292.4h22.6M1220.4 1281.1v22.6M1194.5 1309.3h22.6M1205.8 1298.0v22.6M1189.6 1288.0h22.6M1200.9 1276.7v22.6M1181.6 1306.7h22.6M1192.9 1295.4v22.6M1166.5 1305.8h22.6M1177.8 1294.5v22.6M1159.8 1288.4h22.6M1171.1 1277.1v22.6M1214.7 1274.2h22.6M1226.0 1262.9v22.6M1179.1 1280.8h22.6M1190.4 1269.5v22.6M1105.0 1305.2h22.6M1116.3 1293.9v22.6M1000.8 1403.2h22.6M1012.1 1391.9v22.6M1000.8 1415.9h22.6M1012.1 1404.6v22.6M1000.8 1431.3h22.6M1012.1 1420.0v22.6M1000.8 1438.0h22.6M1012.1 1426.7v22.6M1000.8 1448.7h22.6M1012.1 1437.4v22.6M1014.1 1389.0h22.6M1025.4 1377.7v22.6M1014.1 1401.2h22.6M1025.4 1389.9v22.6M1014.1 1408.1h22.6M1025.4 1396.8v22.6M1014.1 1413.7h22.6M1025.4 1402.4v22.6M1014.1 1428.7h22.6M1025.4 1417.4v22.6M1014.1 1436.5h22.6M1025.4 1425.2v22.6M1014.1 1444.4h22.6M1025.4 1433.1v22.6M1025.8 1386.4h22.6M1037.1 1375.1v22.6M1025.8 1402.6h22.6M1037.1 1391.3v22.6M1025.8 1417.9h22.6M1037.1 1406.6v22.6M1025.8 1426.7h22.6M1037.1 1415.4v22.6M1025.8 1436.2h22.6M1037.1 1424.9v22.6M1036.3 1368.4h22.6M1047.6 1357.1v22.6M1036.3 1377.3h22.6M1047.6 1366.0v22.6M1036.3 1388.1h22.6M1047.6 1376.8v22.6M1036.3 1401.4h22.6M1047.6 1390.1v22.6M1036.3 1407.5h22.6M1047.6 1396.2v22.6M1036.3 1423.7h22.6M1047.6 1412.4v22.6M1036.3 1429.5h22.6M1047.6 1418.2v22.6M1045.7 1361.9h22.6M1057.0 1350.6v22.6M1045.7 1369.5h22.6M1057.0 1358.2v22.6M1045.7 1383.3h22.6M1057.0 1372.0v22.6M1045.7 1399.1h22.6M1057.0 1387.8v22.6M1045.7 1414.9h22.6M1057.0 1403.6v22.6M1054.4 1357.0h22.6M1065.7 1345.7v22.6M1054.4 1363.5h22.6M1065.7 1352.2v22.6M1054.4 1372.7h22.6M1065.7 1361.4v22.6M1054.4 1384.9h22.6M1065.7 1373.6v22.6M1054.4 1400.5h22.6M1065.7 1389.2v22.6M1054.4 1409.8h22.6M1065.7 1398.5v22.6M1062.3 1358.2h22.6M1073.6 1346.9v22.6M1062.3 1369.6h22.6M1073.6 1358.3v22.6M1062.3 1379.5h22.6M1073.6 1368.2v22.6M1062.3 1387.7h22.6M1073.6 1376.4v22.6M1062.3 1399.7h22.6M1073.6 1388.4v22.6M1069.7 1337.5h22.6M1081.0 1326.2v22.6M1069.7 1353.4h22.6M1081.0 1342.1v22.6M1069.7 1365.9h22.6M1081.0 1354.6v22.6M1069.7 1380.0h22.6M1081.0 1368.7v22.6M1069.7 1386.7h22.6M1081.0 1375.4v22.6M1069.7 1397.0h22.6M1081.0 1385.7v22.6M1076.6 1336.6h22.6M1087.9 1325.3v22.6M1076.6 1347.4h22.6M1087.9 1336.1v22.6M1076.6 1356.1h22.6M1087.9 1344.8v22.6M1076.6 1366.0h22.6M1087.9 1354.7v22.6M1076.6 1373.1h22.6M1087.9 1361.8v22.6M1076.6 1382.8h22.6M1087.9 1371.5v22.6M1083.0 1324.1h22.6M1094.3 1312.8v22.6M1083.0 1338.3h22.6M1094.3 1327.0v22.6M1083.0 1352.3h22.6M1094.3 1341.0v22.6M1083.0 1365.4h22.6M1094.3 1354.1v22.6M1083.0 1378.2h22.6M1094.3 1366.9v22.6M1089.0 1322.8h22.6M1100.3 1311.5v22.6M1089.0 1334.7h22.6M1100.3 1323.4v22.6M1089.0 1340.3h22.6M1100.3 1329.0v22.6M1089.0 1351.8h22.6M1100.3 1340.5v22.6M1089.0 1360.1h22.6M1100.3 1348.8v22.6M1089.0 1373.0h22.6M1100.3 1361.7v22.6M1094.7 1324.2h22.6M1106.0 1312.9v22.6M1094.7 1339.3h22.6M1106.0 1328.0v22.6M1094.7 1352.4h22.6M1106.0 1341.1v22.6M1094.7 1368.6h22.6M1106.0 1357.3v22.6M1100.1 1325.6h22.6M1111.4 1314.3v22.6M1100.1 1332.9h22.6M1111.4 1321.6v22.6M1100.1 1347.0h22.6M1111.4 1335.7v22.6M1100.1 1358.9h22.6M1111.4 1347.6v22.6M1105.2 1319.1h22.6M1116.5 1307.8v22.6M1105.2 1331.5h22.6M1116.5 1320.2v22.6M1105.2 1337.5h22.6M1116.5 1326.2v22.6M1105.2 1348.2h22.6M1116.5 1336.9v22.6M1105.2 1356.2h22.6M1116.5 1344.9v22.6M1105.2 1362.3h22.6M1116.5 1351.0v22.6M1110.0 1309.5h22.6M1121.3 1298.2v22.6M1110.0 1319.5h22.6M1121.3 1308.2v22.6M1110.0 1326.3h22.6M1121.3 1315.0v22.6M1110.0 1341.0h22.6M1121.3 1329.7v22.6M1110.0 1350.6h22.6M1121.3 1339.3v22.6M1110.0 1356.5h22.6M1121.3 1345.2v22.6M1114.6 1307.6h22.6M1125.9 1296.3v22.6M1114.6 1314.7h22.6M1125.9 1303.4v22.6M1114.6 1326.7h22.6M1125.9 1315.4v22.6M1114.6 1338.5h22.6M1125.9 1327.2v22.6M1119.1 1310.4h22.6M1130.4 1299.1v22.6M1119.1 1320.7h22.6M1130.4 1309.4v22.6M1119.1 1328.7h22.6M1130.4 1317.4v22.6M1119.1 1337.4h22.6M1130.4 1326.1v22.6M1123.3 1312.7h22.6M1134.6 1301.4v22.6M1123.3 1321.4h22.6M1134.6 1310.1v22.6M1123.3 1332.1h22.6M1134.6 1320.8v22.6M1123.3 1339.0h22.6M1134.6 1327.7v22.6M1127.4 1301.1h22.6M1138.7 1289.8v22.6M1127.4 1317.5h22.6M1138.7 1306.2v22.6M1127.4 1326.2h22.6M1138.7 1314.9v22.6M1127.4 1338.4h22.6M1138.7 1327.1v22.6M1135.0 1305.6h22.6M1146.3 1294.3v22.6M1135.0 1319.3h22.6M1146.3 1308.0v22.6M1135.0 1331.3h22.6M1146.3 1320.0v22.6M1142.1 1296.3h22.6M1153.4 1285.0v22.6M1142.1 1311.8h22.6M1153.4 1300.5v22.6M1142.1 1321.6h22.6M1153.4 1310.3v22.6M1148.7 1303.3h22.6M1160.0 1292.0v22.6M1148.7 1314.9h22.6M1160.0 1303.6v22.6M1154.9 1315.2h22.6M1166.2 1303.9v22.6M1000.8 1384.0h22.6M1012.1 1372.7v22.6M1000.8 1409.6h22.6M1012.1 1398.3v22.6M1000.8 1430.9h22.6M1012.1 1419.6v22.6M1000.8 1458.6h22.6M1012.1 1447.3v22.6M1014.1 1377.6h22.6M1025.4 1366.3v22.6M1014.1 1397.7h22.6M1025.4 1386.4v22.6M1014.1 1420.6h22.6M1025.4 1409.3v22.6M1014.1 1446.6h22.6M1025.4 1435.3v22.6M1014.1 1461.8h22.6M1025.4 1450.5v22.6M1025.8 1377.3h22.6M1037.1 1366.0v22.6M1025.8 1406.9h22.6M1037.1 1395.6v22.6M1025.8 1425.3h22.6M1037.1 1414.0v22.6M1025.8 1438.3h22.6M1037.1 1427.0v22.6M1036.3 1351.2h22.6M1047.6 1339.9v22.6M1036.3 1368.6h22.6M1047.6 1357.3v22.6M1036.3 1400.5h22.6M1047.6 1389.2v22.6M1036.3 1424.4h22.6M1047.6 1413.1v22.6M1036.3 1439.9h22.6M1047.6 1428.6v22.6M1045.7 1361.9h22.6M1057.0 1350.6v22.6M1045.7 1387.0h22.6M1057.0 1375.7v22.6M1045.7 1413.4h22.6M1057.0 1402.1v22.6M1054.4 1349.5h22.6M1065.7 1338.2v22.6M1054.4 1373.5h22.6M1065.7 1362.2v22.6M1054.4 1386.4h22.6M1065.7 1375.1v22.6M1054.4 1416.8h22.6M1065.7 1405.5v22.6M1062.3 1331.8h22.6M1073.6 1320.5v22.6M1062.3 1345.9h22.6M1073.6 1334.6v22.6M1062.3 1361.5h22.6M1073.6 1350.2v22.6M1062.3 1391.5h22.6M1073.6 1380.2v22.6M1062.3 1417.9h22.6M1073.6 1406.6v22.6M1069.7 1332.5h22.6M1081.0 1321.2v22.6M1069.7 1350.3h22.6M1081.0 1339.0v22.6M1069.7 1369.6h22.6M1081.0 1358.3v22.6M1069.7 1389.1h22.6M1081.0 1377.8v22.6M1069.7 1402.9h22.6M1081.0 1391.6v22.6M1076.6 1329.3h22.6M1087.9 1318.0v22.6M1076.6 1345.7h22.6M1087.9 1334.4v22.6M1076.6 1378.3h22.6M1087.9 1367.0v22.6M1076.6 1408.9h22.6M1087.9 1397.6v22.6M1083.0 1334.8h22.6M1094.3 1323.5v22.6M1083.0 1357.2h22.6M1094.3 1345.9v22.6M1083.0 1378.5h22.6M1094.3 1367.2v22.6M1083.0 1405.1h22.6M1094.3 1393.8v22.6M1089.0 1327.0h22.6M1100.3 1315.7v22.6M1089.0 1341.8h22.6M1100.3 1330.5v22.6M1089.0 1353.2h22.6M1100.3 1341.9v22.6M1089.0 1367.0h22.6M1100.3 1355.7v22.6M1089.0 1390.9h22.6M1100.3 1379.6v22.6M1094.7 1313.6h22.6M1106.0 1302.3v22.6M1094.7 1344.0h22.6M1106.0 1332.7v22.6M1094.7 1368.4h22.6M1106.0 1357.1v22.6M1094.7 1385.3h22.6M1106.0 1374.0v22.6M1100.1 1305.7h22.6M1111.4 1294.4v22.6M1100.1 1323.8h22.6M1111.4 1312.5v22.6M1100.1 1349.3h22.6M1111.4 1338.0v22.6M1100.1 1381.7h22.6M1111.4 1370.4v22.6M1105.2 1318.5h22.6M1116.5 1307.2v22.6M1105.2 1347.0h22.6M1116.5 1335.7v22.6M1105.2 1378.6h22.6M1116.5 1367.3v22.6M1110.0 1317.3h22.6M1121.3 1306.0v22.6M1110.0 1336.2h22.6M1121.3 1324.9v22.6M1110.0 1367.9h22.6M1121.3 1356.6v22.6M1114.6 1325.5h22.6M1125.9 1314.2v22.6M1114.6 1354.4h22.6M1125.9 1343.1v22.6M1114.6 1376.2h22.6M1125.9 1364.9v22.6M1119.1 1316.0h22.6M1130.4 1304.7v22.6M1119.1 1329.1h22.6M1130.4 1317.8v22.6M1119.1 1342.5h22.6M1130.4 1331.2v22.6M1119.1 1367.7h22.6M1130.4 1356.4v22.6M1123.3 1320.1h22.6M1134.6 1308.8v22.6M1123.3 1333.0h22.6M1134.6 1321.7v22.6M1123.3 1357.5h22.6M1134.6 1346.2v22.6M1127.4 1303.3h22.6M1138.7 1292.0v22.6M1127.4 1331.7h22.6M1138.7 1320.4v22.6M1127.4 1345.7h22.6M1138.7 1334.4v22.6M1135.0 1294.1h22.6M1146.3 1282.8v22.6M1135.0 1320.8h22.6M1146.3 1309.5v22.6M1135.0 1333.2h22.6M1146.3 1321.9v22.6M1135.0 1361.8h22.6M1146.3 1350.5v22.6M1142.1 1294.2h22.6M1153.4 1282.9v22.6M1142.1 1326.4h22.6M1153.4 1315.1v22.6M1142.1 1346.9h22.6M1153.4 1335.6v22.6M1148.7 1303.5h22.6M1160.0 1292.2v22.6M1148.7 1322.7h22.6M1160.0 1311.4v22.6M1148.7 1334.8h22.6M1160.0 1323.5v22.6M1154.9 1289.7h22.6M1166.2 1278.4v22.6M1154.9 1316.8h22.6M1166.2 1305.5v22.6M1154.9 1330.3h22.6M1166.2 1319.0v22.6M876.3 1491.4h22.6M887.6 1480.1v22.6M916.6 1491.4h22.6M927.9 1480.1v22.6M945.2 1491.4h22.6M956.5 1480.1v22.6M967.4 1491.4h22.6M978.7 1480.1v22.6M985.5 1491.4h22.6M996.8 1480.1v22.6" stroke="#ec1010" stroke-width="1.7" fill="none"/>
</g>
<line x1="887.6" y1="1432.5" x2="1576.6" y2="843.3" stroke="#0404dc" stroke-width="2.8" stroke-dasharray="10.4 4.5" clip-path="url(#clipD)"/>
<rect x="887.7" y="811.4" width="686.5" height="688.7" fill="none" stroke="#000" stroke-width="1.5"/>
<line x1="1047.6" y1="1500.1" x2="1047.6" y2="1506.7" stroke="#000" stroke-width="1.5"/>
<text x="1023.1" y="1533.1" font-size="27.2" text-anchor="start">10</text>
<text x="1057.6" y="1522.7" font-size="19.0" text-anchor="start">1</text>
<line x1="1276.4" y1="1500.1" x2="1276.4" y2="1506.7" stroke="#000" stroke-width="1.5"/>
<text x="1251.9" y="1533.1" font-size="27.2" text-anchor="start">10</text>
<text x="1286.4" y="1522.7" font-size="19.0" text-anchor="start">2</text>
<line x1="1505.3" y1="1500.1" x2="1505.3" y2="1506.7" stroke="#000" stroke-width="1.5"/>
<text x="1480.8" y="1533.1" font-size="27.2" text-anchor="start">10</text>
<text x="1515.3" y="1522.7" font-size="19.0" text-anchor="start">3</text>
<line x1="887.6" y1="1500.1" x2="887.6" y2="1503.9" stroke="#000" stroke-width="1.1"/>
<line x1="927.9" y1="1500.1" x2="927.9" y2="1503.9" stroke="#000" stroke-width="1.1"/>
<line x1="956.5" y1="1500.1" x2="956.5" y2="1503.9" stroke="#000" stroke-width="1.1"/>
<line x1="978.7" y1="1500.1" x2="978.7" y2="1503.9" stroke="#000" stroke-width="1.1"/>
<line x1="996.8" y1="1500.1" x2="996.8" y2="1503.9" stroke="#000" stroke-width="1.1"/>
<line x1="1012.1" y1="1500.1" x2="1012.1" y2="1503.9" stroke="#000" stroke-width="1.1"/>
<line x1="1025.4" y1="1500.1" x2="1025.4" y2="1503.9" stroke="#000" stroke-width="1.1"/>
<line x1="1037.1" y1="1500.1" x2="1037.1" y2="1503.9" stroke="#000" stroke-width="1.1"/>
<line x1="1116.5" y1="1500.1" x2="1116.5" y2="1503.9" stroke="#000" stroke-width="1.1"/>
<line x1="1156.8" y1="1500.1" x2="1156.8" y2="1503.9" stroke="#000" stroke-width="1.1"/>
<line x1="1185.4" y1="1500.1" x2="1185.4" y2="1503.9" stroke="#000" stroke-width="1.1"/>
<line x1="1207.6" y1="1500.1" x2="1207.6" y2="1503.9" stroke="#000" stroke-width="1.1"/>
<line x1="1225.7" y1="1500.1" x2="1225.7" y2="1503.9" stroke="#000" stroke-width="1.1"/>
<line x1="1241.0" y1="1500.1" x2="1241.0" y2="1503.9" stroke="#000" stroke-width="1.1"/>
<line x1="1254.3" y1="1500.1" x2="1254.3" y2="1503.9" stroke="#000" stroke-width="1.1"/>
<line x1="1266.0" y1="1500.1" x2="1266.0" y2="1503.9" stroke="#000" stroke-width="1.1"/>
<line x1="1345.3" y1="1500.1" x2="1345.3" y2="1503.9" stroke="#000" stroke-width="1.1"/>
<line x1="1385.7" y1="1500.1" x2="1385.7" y2="1503.9" stroke="#000" stroke-width="1.1"/>
<line x1="1414.2" y1="1500.1" x2="1414.2" y2="1503.9" stroke="#000" stroke-width="1.1"/>
<line x1="1436.4" y1="1500.1" x2="1436.4" y2="1503.9" stroke="#000" stroke-width="1.1"/>
<line x1="1454.6" y1="1500.1" x2="1454.6" y2="1503.9" stroke="#000" stroke-width="1.1"/>
<line x1="1469.9" y1="1500.1" x2="1469.9" y2="1503.9" stroke="#000" stroke-width="1.1"/>
<line x1="1483.1" y1="1500.1" x2="1483.1" y2="1503.9" stroke="#000" stroke-width="1.1"/>
<line x1="1494.9" y1="1500.1" x2="1494.9" y2="1503.9" stroke="#000" stroke-width="1.1"/>
<line x1="1574.2" y1="1500.1" x2="1574.2" y2="1503.9" stroke="#000" stroke-width="1.1"/>
<line x1="881.1" y1="1491.4" x2="887.7" y2="1491.4" stroke="#000" stroke-width="1.5"/>
<text x="875.1" y="1502.0" font-size="27.2" text-anchor="end">0</text>
<line x1="881.1" y1="1406.4" x2="887.7" y2="1406.4" stroke="#000" stroke-width="1.5"/>
<text x="875.1" y="1417.0" font-size="27.2" text-anchor="end">1</text>
<line x1="881.1" y1="1321.4" x2="887.7" y2="1321.4" stroke="#000" stroke-width="1.5"/>
<text x="875.1" y="1332.0" font-size="27.2" text-anchor="end">2</text>
<line x1="881.1" y1="1236.4" x2="887.7" y2="1236.4" stroke="#000" stroke-width="1.5"/>
<text x="875.1" y="1247.0" font-size="27.2" text-anchor="end">3</text>
<line x1="881.1" y1="1151.4" x2="887.7" y2="1151.4" stroke="#000" stroke-width="1.5"/>
<text x="875.1" y="1162.0" font-size="27.2" text-anchor="end">4</text>
<line x1="881.1" y1="1066.4" x2="887.7" y2="1066.4" stroke="#000" stroke-width="1.5"/>
<text x="875.1" y="1077.0" font-size="27.2" text-anchor="end">5</text>
<line x1="881.1" y1="981.4" x2="887.7" y2="981.4" stroke="#000" stroke-width="1.5"/>
<text x="875.1" y="992.0" font-size="27.2" text-anchor="end">6</text>
<line x1="881.1" y1="896.4" x2="887.7" y2="896.4" stroke="#000" stroke-width="1.5"/>
<text x="875.1" y="907.0" font-size="27.2" text-anchor="end">7</text>
<line x1="881.1" y1="811.4" x2="887.7" y2="811.4" stroke="#000" stroke-width="1.5"/>
<text x="875.1" y="822.0" font-size="27.2" text-anchor="end">8</text>
<text x="438.6" y="768.2" font-size="32.5" text-anchor="middle">Community Size</text>
<text x="129.7" y="78.7" font-size="32.5" text-anchor="start">(A)</text>
<text x="1231.0" y="768.3" font-size="32.5" text-anchor="middle">Community Size</text>
<text x="922.0" y="78.8" font-size="32.5" text-anchor="start">(B)</text>
<text x="438.6" y="1570.1" font-size="32.5" text-anchor="middle">Community Size</text>
<text x="129.7" y="880.3" font-size="32.5" text-anchor="start">(C)</text>
<text x="1231.0" y="1570.1" font-size="32.5" text-anchor="middle">Community Size</text>
<text x="922.0" y="880.3" font-size="32.5" text-anchor="start">(D)</text>
<g transform="translate(32.3,354.05) rotate(-90)">
<text x="-246.0" y="0.0" font-size="32.5" text-anchor="start">Functional Diversity</text>
<text x="96.0" y="0.0" font-size="32.5" text-anchor="start" font-style="italic">N</text>
<text x="120.0" y="4.4" font-size="22.75" text-anchor="start">BP</text>
<text x="156.3" y="0.0" font-size="32.5" text-anchor="start">+</text>
<text x="190.5" y="0.0" font-size="32.5" text-anchor="start" font-style="italic">N</text>
<text x="214.0" y="4.4" font-size="22.75" text-anchor="start">MF</text>
<line x1="95.8" y1="-28.4" x2="149.9" y2="-28.4" stroke="#000" stroke-width="1.6"/>
<line x1="190.2" y1="-28.4" x2="246.9" y2="-28.4" stroke="#000" stroke-width="1.6"/>
</g>
<g transform="translate(837.8,354.15) rotate(-90)">
<text x="-178.5" y="0.0" font-size="32.5" text-anchor="start">Ligand entropy</text>
<text x="86.1" y="0.0" font-size="32.5" text-anchor="start" font-style="italic">S</text>
<text x="107.8" y="5.9" font-size="22.75" text-anchor="start">ligand</text>
</g>
<g transform="translate(24.1,1155.75) rotate(-90)">
<text x="-133.8" y="0.0" font-size="32.5" text-anchor="start">Variance</text>
<text x="31.0" y="0.0" font-size="32.5" text-anchor="start"><tspan font-style="italic">Var</tspan>(<tspan font-style="italic">C</tspan>)</text>
</g>
<g transform="translate(841.6,1155.75) rotate(-90)">
<text x="-196.4" y="0.0" font-size="32.5" text-anchor="start">Domain entropy</text>
<text x="88.8" y="0.0" font-size="32.5" text-anchor="start" font-style="italic">S</text>
<text x="109.5" y="5.9" font-size="22.75" text-anchor="start">domain</text>
</g>
<rect x="411.9" y="591.9" width="356.6" height="93.3" rx="5.5" ry="5.5" fill="#fff" fill-opacity="0.8" stroke="#cccccc" stroke-width="1.5"/>
<circle cx="449.5" cy="619.6" r="6.2" fill="#ff0000"/>
<text x="499.0" y="629.5" font-size="27.2" text-anchor="start" font-style="italic">N</text>
<text x="519.0" y="633.2" font-size="19.04" text-anchor="start">BP</text>
<text x="548.5" y="629.5" font-size="27.2" text-anchor="start">+</text>
<text x="577.0" y="629.5" font-size="27.2" text-anchor="start" font-style="italic">N</text>
<text x="597.5" y="633.2" font-size="19.04" text-anchor="start">MF</text>
<line x1="499.1" y1="604.8" x2="543.6" y2="604.8" stroke="#000" stroke-width="1.4"/>
<line x1="577.0" y1="604.8" x2="624.9" y2="604.8" stroke="#000" stroke-width="1.4"/>
<line x1="422.3" y1="659.2" x2="477.3" y2="659.2" stroke="#0404dc" stroke-width="2.8" stroke-dasharray="10.4 4.5"/>
<text x="499.0" y="668.7" font-size="27.2" text-anchor="start">Average of all sites</text>
<rect x="1350.7" y="594.1" width="209.9" height="90.1" rx="5.5" ry="5.5" fill="#fff" fill-opacity="0.8" stroke="#cccccc" stroke-width="1.5"/>
<path d="M1377.3 616.0h22.6M1388.6 604.7v22.6" stroke="#ec1010" stroke-width="1.7" fill="none"/>
<text x="1437.6" y="624.4" font-size="27.2" text-anchor="start" font-style="italic">S</text>
<text x="1454.4" y="628.9" font-size="19.04" text-anchor="start">ligand</text>
<line x1="1361.3" y1="659.3" x2="1415.9" y2="659.3" stroke="#0404dc" stroke-width="2.8" stroke-dasharray="10.4 4.5"/>
<text x="1436.5" y="668.9" font-size="27.2" text-anchor="start">Random</text>
<rect x="539.2" y="1399.9" width="229.0" height="86.4" rx="5.5" ry="5.5" fill="#fff" fill-opacity="0.8" stroke="#cccccc" stroke-width="1.5"/>
<path d="M565.6 1420.9h22.6M576.9 1409.6v22.6" stroke="#ec1010" stroke-width="1.7" fill="none"/>
<circle cx="576.9" cy="1460.6" r="3.4" fill="#008000"/>
<text x="626.0" y="1429.4" font-size="27.2" text-anchor="start"><tspan font-style="italic">Var</tspan>(<tspan font-style="italic">C</tspan>)</text>
<text x="626.0" y="1469.2" font-size="27.2" text-anchor="start"><tspan font-style="italic">Var</tspan>(<tspan font-style="italic">C</tspan>)</text>
<text x="712.2" y="1473.7" font-size="19.04" text-anchor="start">rand</text>
<rect x="1350.9" y="1400" width="209.9" height="86.3" rx="5.5" ry="5.5" fill="#fff" fill-opacity="0.8" stroke="#cccccc" stroke-width="1.5"/>
<path d="M1377.1 1421.3h22.6M1388.4 1410.0v22.6" stroke="#ec1010" stroke-width="1.7" fill="none"/>
<text x="1437.6" y="1430.3" font-size="27.2" text-anchor="start" font-style="italic">S</text>
<text x="1454.4" y="1434.8" font-size="19.04" text-anchor="start">domain</text>
<line x1="1361.3" y1="1460.6" x2="1415.9" y2="1460.6" stroke="#0404dc" stroke-width="2.8" stroke-dasharray="10.4 4.5"/>
<text x="1436.5" y="1470.0" font-size="27.2" text-anchor="start">Random</text>
</svg></body></html>
